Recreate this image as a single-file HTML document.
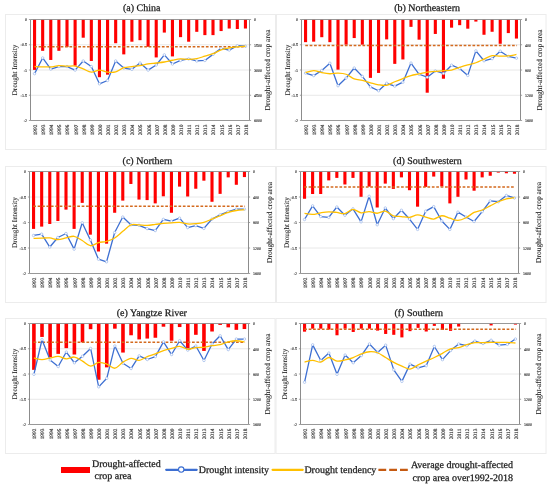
<!DOCTYPE html>
<html><head><meta charset="utf-8"><title>Drought charts</title>
<style>
html,body{margin:0;padding:0;background:#fff;}
body{width:550px;height:486px;overflow:hidden;font-family:"Liberation Serif", serif;}
svg{display:block;will-change:transform;text-rendering:geometricPrecision;}
</style></head><body>
<svg width="550" height="486" viewBox="0 0 550 486" font-family='"Liberation Serif", serif'>
<rect width="550" height="486" fill="#fff"/>
<rect x="5.5" y="14.5" width="270" height="135" fill="#fff" stroke="#ececec" stroke-width="1"/>
<text x="123" y="11.3" font-size="10" fill="#1a1a1a" stroke="#1a1a1a" stroke-width="0.25">(a) China</text>
<line x1="30.5" y1="44.75" x2="249.5" y2="44.75" stroke="#e2e2e2" stroke-width="0.8"/>
<line x1="30.5" y1="70" x2="249.5" y2="70" stroke="#e2e2e2" stroke-width="0.8"/>
<line x1="30.5" y1="95.25" x2="249.5" y2="95.25" stroke="#e2e2e2" stroke-width="0.8"/>
<rect x="33.01" y="19.5" width="3.1" height="50.4" fill="#ff0000"/>
<rect x="41.12" y="19.5" width="3.1" height="31.33" fill="#ff0000"/>
<rect x="49.23" y="19.5" width="3.1" height="40.46" fill="#ff0000"/>
<rect x="57.34" y="19.5" width="3.1" height="31.33" fill="#ff0000"/>
<rect x="65.45" y="19.5" width="3.1" height="27.58" fill="#ff0000"/>
<rect x="73.56" y="19.5" width="3.1" height="46.19" fill="#ff0000"/>
<rect x="81.67" y="19.5" width="3.1" height="18.2" fill="#ff0000"/>
<rect x="89.78" y="19.5" width="3.1" height="41.47" fill="#ff0000"/>
<rect x="97.89" y="19.5" width="3.1" height="57.7" fill="#ff0000"/>
<rect x="106.01" y="19.5" width="3.1" height="55.16" fill="#ff0000"/>
<rect x="114.12" y="19.5" width="3.1" height="23.73" fill="#ff0000"/>
<rect x="122.23" y="19.5" width="3.1" height="34.88" fill="#ff0000"/>
<rect x="130.34" y="19.5" width="3.1" height="22.21" fill="#ff0000"/>
<rect x="138.45" y="19.5" width="3.1" height="20.69" fill="#ff0000"/>
<rect x="146.56" y="19.5" width="3.1" height="27.28" fill="#ff0000"/>
<rect x="154.67" y="19.5" width="3.1" height="37.93" fill="#ff0000"/>
<rect x="162.78" y="19.5" width="3.1" height="13.08" fill="#ff0000"/>
<rect x="170.89" y="19.5" width="3.1" height="36.91" fill="#ff0000"/>
<rect x="179.01" y="19.5" width="3.1" height="17.64" fill="#ff0000"/>
<rect x="187.12" y="19.5" width="3.1" height="22.21" fill="#ff0000"/>
<rect x="195.23" y="19.5" width="3.1" height="12.32" fill="#ff0000"/>
<rect x="203.34" y="19.5" width="3.1" height="15.62" fill="#ff0000"/>
<rect x="211.45" y="19.5" width="3.1" height="15.62" fill="#ff0000"/>
<rect x="219.56" y="19.5" width="3.1" height="11.56" fill="#ff0000"/>
<rect x="227.67" y="19.5" width="3.1" height="9.03" fill="#ff0000"/>
<rect x="235.78" y="19.5" width="3.1" height="9.53" fill="#ff0000"/>
<rect x="243.89" y="19.5" width="3.1" height="9.03" fill="#ff0000"/>
<line x1="30.5" y1="19.5" x2="249.5" y2="19.5" stroke="#8c8c8c" stroke-width="0.9"/>
<line x1="30.5" y1="120.5" x2="249.5" y2="120.5" stroke="#8c8c8c" stroke-width="0.9"/>
<line x1="30.5" y1="19.5" x2="30.5" y2="120.5" stroke="#8c8c8c" stroke-width="1"/>
<line x1="249.5" y1="19.5" x2="249.5" y2="120.5" stroke="#8c8c8c" stroke-width="1"/>
<line x1="28.9" y1="19.5" x2="30.5" y2="19.5" stroke="#8c8c8c" stroke-width="0.8"/>
<line x1="249.5" y1="19.5" x2="251.1" y2="19.5" stroke="#8c8c8c" stroke-width="0.8"/>
<text transform="translate(27.1,21.2) scale(0.1)" font-size="41" text-anchor="end" fill="#222" stroke="#222" stroke-width="1.0">0</text>
<text transform="translate(253.9,21.4) scale(0.1)" font-size="41" fill="#222" stroke="#222" stroke-width="1.0">0</text>
<line x1="28.9" y1="44.75" x2="30.5" y2="44.75" stroke="#8c8c8c" stroke-width="0.8"/>
<line x1="249.5" y1="44.75" x2="251.1" y2="44.75" stroke="#8c8c8c" stroke-width="0.8"/>
<text transform="translate(27.1,46.45) scale(0.1)" font-size="41" text-anchor="end" fill="#222" stroke="#222" stroke-width="1.0">-0.5</text>
<text transform="translate(253.9,46.65) scale(0.1)" font-size="41" fill="#222" stroke="#222" stroke-width="1.0">1500</text>
<line x1="28.9" y1="70" x2="30.5" y2="70" stroke="#8c8c8c" stroke-width="0.8"/>
<line x1="249.5" y1="70" x2="251.1" y2="70" stroke="#8c8c8c" stroke-width="0.8"/>
<text transform="translate(27.1,71.7) scale(0.1)" font-size="41" text-anchor="end" fill="#222" stroke="#222" stroke-width="1.0">-1</text>
<text transform="translate(253.9,71.9) scale(0.1)" font-size="41" fill="#222" stroke="#222" stroke-width="1.0">3000</text>
<line x1="28.9" y1="95.25" x2="30.5" y2="95.25" stroke="#8c8c8c" stroke-width="0.8"/>
<line x1="249.5" y1="95.25" x2="251.1" y2="95.25" stroke="#8c8c8c" stroke-width="0.8"/>
<text transform="translate(27.1,96.95) scale(0.1)" font-size="41" text-anchor="end" fill="#222" stroke="#222" stroke-width="1.0">-1.5</text>
<text transform="translate(253.9,97.15) scale(0.1)" font-size="41" fill="#222" stroke="#222" stroke-width="1.0">4500</text>
<line x1="28.9" y1="120.5" x2="30.5" y2="120.5" stroke="#8c8c8c" stroke-width="0.8"/>
<line x1="249.5" y1="120.5" x2="251.1" y2="120.5" stroke="#8c8c8c" stroke-width="0.8"/>
<text transform="translate(27.1,122.2) scale(0.1)" font-size="41" text-anchor="end" fill="#222" stroke="#222" stroke-width="1.0">-2</text>
<text transform="translate(253.9,122.4) scale(0.1)" font-size="41" fill="#222" stroke="#222" stroke-width="1.0">6000</text>
<text transform="translate(36.96,124.7) rotate(-90) scale(0.1)" font-size="53" text-anchor="end" fill="#2a2a2a" stroke="#2a2a2a" stroke-width="1.4">1992</text>
<text transform="translate(45.07,124.7) rotate(-90) scale(0.1)" font-size="53" text-anchor="end" fill="#2a2a2a" stroke="#2a2a2a" stroke-width="1.4">1993</text>
<text transform="translate(53.18,124.7) rotate(-90) scale(0.1)" font-size="53" text-anchor="end" fill="#2a2a2a" stroke="#2a2a2a" stroke-width="1.4">1994</text>
<text transform="translate(61.29,124.7) rotate(-90) scale(0.1)" font-size="53" text-anchor="end" fill="#2a2a2a" stroke="#2a2a2a" stroke-width="1.4">1995</text>
<text transform="translate(69.4,124.7) rotate(-90) scale(0.1)" font-size="53" text-anchor="end" fill="#2a2a2a" stroke="#2a2a2a" stroke-width="1.4">1996</text>
<text transform="translate(77.51,124.7) rotate(-90) scale(0.1)" font-size="53" text-anchor="end" fill="#2a2a2a" stroke="#2a2a2a" stroke-width="1.4">1997</text>
<text transform="translate(85.62,124.7) rotate(-90) scale(0.1)" font-size="53" text-anchor="end" fill="#2a2a2a" stroke="#2a2a2a" stroke-width="1.4">1998</text>
<text transform="translate(93.73,124.7) rotate(-90) scale(0.1)" font-size="53" text-anchor="end" fill="#2a2a2a" stroke="#2a2a2a" stroke-width="1.4">1999</text>
<text transform="translate(101.84,124.7) rotate(-90) scale(0.1)" font-size="53" text-anchor="end" fill="#2a2a2a" stroke="#2a2a2a" stroke-width="1.4">2000</text>
<text transform="translate(109.96,124.7) rotate(-90) scale(0.1)" font-size="53" text-anchor="end" fill="#2a2a2a" stroke="#2a2a2a" stroke-width="1.4">2001</text>
<text transform="translate(118.07,124.7) rotate(-90) scale(0.1)" font-size="53" text-anchor="end" fill="#2a2a2a" stroke="#2a2a2a" stroke-width="1.4">2002</text>
<text transform="translate(126.18,124.7) rotate(-90) scale(0.1)" font-size="53" text-anchor="end" fill="#2a2a2a" stroke="#2a2a2a" stroke-width="1.4">2003</text>
<text transform="translate(134.29,124.7) rotate(-90) scale(0.1)" font-size="53" text-anchor="end" fill="#2a2a2a" stroke="#2a2a2a" stroke-width="1.4">2004</text>
<text transform="translate(142.4,124.7) rotate(-90) scale(0.1)" font-size="53" text-anchor="end" fill="#2a2a2a" stroke="#2a2a2a" stroke-width="1.4">2005</text>
<text transform="translate(150.51,124.7) rotate(-90) scale(0.1)" font-size="53" text-anchor="end" fill="#2a2a2a" stroke="#2a2a2a" stroke-width="1.4">2006</text>
<text transform="translate(158.62,124.7) rotate(-90) scale(0.1)" font-size="53" text-anchor="end" fill="#2a2a2a" stroke="#2a2a2a" stroke-width="1.4">2007</text>
<text transform="translate(166.73,124.7) rotate(-90) scale(0.1)" font-size="53" text-anchor="end" fill="#2a2a2a" stroke="#2a2a2a" stroke-width="1.4">2008</text>
<text transform="translate(174.84,124.7) rotate(-90) scale(0.1)" font-size="53" text-anchor="end" fill="#2a2a2a" stroke="#2a2a2a" stroke-width="1.4">2009</text>
<text transform="translate(182.96,124.7) rotate(-90) scale(0.1)" font-size="53" text-anchor="end" fill="#2a2a2a" stroke="#2a2a2a" stroke-width="1.4">2010</text>
<text transform="translate(191.07,124.7) rotate(-90) scale(0.1)" font-size="53" text-anchor="end" fill="#2a2a2a" stroke="#2a2a2a" stroke-width="1.4">2011</text>
<text transform="translate(199.18,124.7) rotate(-90) scale(0.1)" font-size="53" text-anchor="end" fill="#2a2a2a" stroke="#2a2a2a" stroke-width="1.4">2012</text>
<text transform="translate(207.29,124.7) rotate(-90) scale(0.1)" font-size="53" text-anchor="end" fill="#2a2a2a" stroke="#2a2a2a" stroke-width="1.4">2013</text>
<text transform="translate(215.4,124.7) rotate(-90) scale(0.1)" font-size="53" text-anchor="end" fill="#2a2a2a" stroke="#2a2a2a" stroke-width="1.4">2014</text>
<text transform="translate(223.51,124.7) rotate(-90) scale(0.1)" font-size="53" text-anchor="end" fill="#2a2a2a" stroke="#2a2a2a" stroke-width="1.4">2015</text>
<text transform="translate(231.62,124.7) rotate(-90) scale(0.1)" font-size="53" text-anchor="end" fill="#2a2a2a" stroke="#2a2a2a" stroke-width="1.4">2016</text>
<text transform="translate(239.73,124.7) rotate(-90) scale(0.1)" font-size="53" text-anchor="end" fill="#2a2a2a" stroke="#2a2a2a" stroke-width="1.4">2017</text>
<text transform="translate(247.84,124.7) rotate(-90) scale(0.1)" font-size="53" text-anchor="end" fill="#2a2a2a" stroke="#2a2a2a" stroke-width="1.4">2018</text>
<text transform="translate(16.8,70) rotate(-90)" font-size="7.2" text-anchor="middle" fill="#1a1a1a" stroke="#1a1a1a" stroke-width="0.08">Drought Intensity</text>
<text transform="translate(270.4,70) rotate(-90)" font-size="7.5" text-anchor="middle" fill="#1a1a1a" stroke="#1a1a1a" stroke-width="0.08">Drought-affected crop area</text>
<line x1="34.26" y1="46.78" x2="246.04" y2="46.78" stroke="#d46a1e" stroke-width="1.5" stroke-dasharray="2.7,1.7"/>
<polyline points="34.56,73.65 42.67,57.93 50.78,69.09 58.89,66.55 67,66.55 75.11,70.1 83.22,60.97 91.33,66.55 99.44,83.79 107.56,80.49 115.67,60.97 123.78,68.07 131.89,69.34 140,63 148.11,70.1 156.22,65.03 164.33,54.89 172.44,64.02 180.56,60.47 188.67,58.95 196.78,60.97 204.89,60.47 213,54.38 221.11,48.3 229.22,50.07 237.33,45.76 245.44,46.27" fill="none" stroke="#3d6fd2" stroke-width="1.3" stroke-linejoin="round"/>
<circle cx="34.56" cy="73.65" r="1.25" fill="#fff" stroke="#7a9ee0" stroke-width="0.5"/>
<circle cx="42.67" cy="57.93" r="1.25" fill="#fff" stroke="#7a9ee0" stroke-width="0.5"/>
<circle cx="50.78" cy="69.09" r="1.25" fill="#fff" stroke="#7a9ee0" stroke-width="0.5"/>
<circle cx="58.89" cy="66.55" r="1.25" fill="#fff" stroke="#7a9ee0" stroke-width="0.5"/>
<circle cx="67" cy="66.55" r="1.25" fill="#fff" stroke="#7a9ee0" stroke-width="0.5"/>
<circle cx="75.11" cy="70.1" r="1.25" fill="#fff" stroke="#7a9ee0" stroke-width="0.5"/>
<circle cx="83.22" cy="60.97" r="1.25" fill="#fff" stroke="#7a9ee0" stroke-width="0.5"/>
<circle cx="91.33" cy="66.55" r="1.25" fill="#fff" stroke="#7a9ee0" stroke-width="0.5"/>
<circle cx="99.44" cy="83.79" r="1.25" fill="#fff" stroke="#7a9ee0" stroke-width="0.5"/>
<circle cx="107.56" cy="80.49" r="1.25" fill="#fff" stroke="#7a9ee0" stroke-width="0.5"/>
<circle cx="115.67" cy="60.97" r="1.25" fill="#fff" stroke="#7a9ee0" stroke-width="0.5"/>
<circle cx="123.78" cy="68.07" r="1.25" fill="#fff" stroke="#7a9ee0" stroke-width="0.5"/>
<circle cx="131.89" cy="69.34" r="1.25" fill="#fff" stroke="#7a9ee0" stroke-width="0.5"/>
<circle cx="140" cy="63" r="1.25" fill="#fff" stroke="#7a9ee0" stroke-width="0.5"/>
<circle cx="148.11" cy="70.1" r="1.25" fill="#fff" stroke="#7a9ee0" stroke-width="0.5"/>
<circle cx="156.22" cy="65.03" r="1.25" fill="#fff" stroke="#7a9ee0" stroke-width="0.5"/>
<circle cx="164.33" cy="54.89" r="1.25" fill="#fff" stroke="#7a9ee0" stroke-width="0.5"/>
<circle cx="172.44" cy="64.02" r="1.25" fill="#fff" stroke="#7a9ee0" stroke-width="0.5"/>
<circle cx="180.56" cy="60.47" r="1.25" fill="#fff" stroke="#7a9ee0" stroke-width="0.5"/>
<circle cx="188.67" cy="58.95" r="1.25" fill="#fff" stroke="#7a9ee0" stroke-width="0.5"/>
<circle cx="196.78" cy="60.97" r="1.25" fill="#fff" stroke="#7a9ee0" stroke-width="0.5"/>
<circle cx="204.89" cy="60.47" r="1.25" fill="#fff" stroke="#7a9ee0" stroke-width="0.5"/>
<circle cx="213" cy="54.38" r="1.25" fill="#fff" stroke="#7a9ee0" stroke-width="0.5"/>
<circle cx="221.11" cy="48.3" r="1.25" fill="#fff" stroke="#7a9ee0" stroke-width="0.5"/>
<circle cx="229.22" cy="50.07" r="1.25" fill="#fff" stroke="#7a9ee0" stroke-width="0.5"/>
<circle cx="237.33" cy="45.76" r="1.25" fill="#fff" stroke="#7a9ee0" stroke-width="0.5"/>
<circle cx="245.44" cy="46.27" r="1.25" fill="#fff" stroke="#7a9ee0" stroke-width="0.5"/>
<path d="M34.56,66.5 C35.91,66.56 39.96,66.8 42.67,66.86 C45.37,66.91 48.07,67.05 50.78,66.86 C53.48,66.66 56.19,65.8 58.89,65.69 C61.59,65.58 64.3,66.14 67,66.2 C69.7,66.26 72.41,65.58 75.11,66.04 C77.81,66.51 80.52,67.97 83.22,68.98 C85.93,70 88.63,71.94 91.33,72.13 C94.04,72.31 96.74,70.1 99.44,70.1 C102.15,70.1 104.85,71.83 107.56,72.13 C110.26,72.42 112.96,72.61 115.67,71.87 C118.37,71.14 121.07,68.6 123.78,67.72 C126.48,66.83 129.19,66.89 131.89,66.55 C134.59,66.21 137.3,66.14 140,65.69 C142.7,65.24 145.41,64.31 148.11,63.86 C150.81,63.42 153.52,63.31 156.22,63 C158.93,62.69 161.63,62.44 164.33,61.99 C167.04,61.53 169.74,60.77 172.44,60.26 C175.15,59.76 177.85,59.08 180.56,58.95 C183.26,58.81 185.96,59.51 188.67,59.45 C191.37,59.39 194.07,59.14 196.78,58.59 C199.48,58.04 202.19,56.98 204.89,56.16 C207.59,55.34 210.3,54.73 213,53.67 C215.7,52.62 218.41,50.8 221.11,49.82 C223.81,48.84 226.52,48.3 229.22,47.79 C231.93,47.29 234.63,47.03 237.33,46.78 C240.04,46.52 244.09,46.36 245.44,46.27" fill="none" stroke="#ffc000" stroke-width="1.3" stroke-linejoin="round"/>
<rect x="276.5" y="14.5" width="269.5" height="135" fill="#fff" stroke="#ececec" stroke-width="1"/>
<text x="394.2" y="11.3" font-size="10" fill="#1a1a1a" stroke="#1a1a1a" stroke-width="0.25">(b) Northeastern</text>
<line x1="301.5" y1="44.75" x2="520.5" y2="44.75" stroke="#e2e2e2" stroke-width="0.8"/>
<line x1="301.5" y1="70" x2="520.5" y2="70" stroke="#e2e2e2" stroke-width="0.8"/>
<line x1="301.5" y1="95.25" x2="520.5" y2="95.25" stroke="#e2e2e2" stroke-width="0.8"/>
<rect x="304.01" y="19.5" width="3.1" height="22.66" fill="#ff0000"/>
<rect x="312.12" y="19.5" width="3.1" height="22.16" fill="#ff0000"/>
<rect x="320.23" y="19.5" width="3.1" height="17.7" fill="#ff0000"/>
<rect x="328.34" y="19.5" width="3.1" height="22.66" fill="#ff0000"/>
<rect x="336.45" y="19.5" width="3.1" height="50.14" fill="#ff0000"/>
<rect x="344.56" y="19.5" width="3.1" height="25.15" fill="#ff0000"/>
<rect x="352.67" y="19.5" width="3.1" height="18.56" fill="#ff0000"/>
<rect x="360.78" y="19.5" width="3.1" height="25.15" fill="#ff0000"/>
<rect x="368.89" y="19.5" width="3.1" height="58.36" fill="#ff0000"/>
<rect x="377.01" y="19.5" width="3.1" height="53.44" fill="#ff0000"/>
<rect x="385.12" y="19.5" width="3.1" height="19.88" fill="#ff0000"/>
<rect x="393.23" y="19.5" width="3.1" height="44.36" fill="#ff0000"/>
<rect x="401.34" y="19.5" width="3.1" height="39.95" fill="#ff0000"/>
<rect x="409.45" y="19.5" width="3.1" height="7.35" fill="#ff0000"/>
<rect x="417.56" y="19.5" width="3.1" height="20.18" fill="#ff0000"/>
<rect x="425.67" y="19.5" width="3.1" height="73.21" fill="#ff0000"/>
<rect x="433.78" y="19.5" width="3.1" height="14.45" fill="#ff0000"/>
<rect x="441.89" y="19.5" width="3.1" height="59.22" fill="#ff0000"/>
<rect x="450.01" y="19.5" width="3.1" height="8.16" fill="#ff0000"/>
<rect x="458.12" y="19.5" width="3.1" height="5.68" fill="#ff0000"/>
<rect x="466.23" y="19.5" width="3.1" height="9.18" fill="#ff0000"/>
<rect x="474.34" y="19.5" width="3.1" height="2.08" fill="#ff0000"/>
<rect x="482.45" y="19.5" width="3.1" height="15.26" fill="#ff0000"/>
<rect x="490.56" y="19.5" width="3.1" height="12.27" fill="#ff0000"/>
<rect x="498.67" y="19.5" width="3.1" height="24.29" fill="#ff0000"/>
<rect x="506.78" y="19.5" width="3.1" height="13.59" fill="#ff0000"/>
<rect x="514.89" y="19.5" width="3.1" height="19.06" fill="#ff0000"/>
<line x1="301.5" y1="19.5" x2="520.5" y2="19.5" stroke="#8c8c8c" stroke-width="0.9"/>
<line x1="301.5" y1="120.5" x2="520.5" y2="120.5" stroke="#8c8c8c" stroke-width="0.9"/>
<line x1="301.5" y1="19.5" x2="301.5" y2="120.5" stroke="#8c8c8c" stroke-width="1"/>
<line x1="520.5" y1="19.5" x2="520.5" y2="120.5" stroke="#8c8c8c" stroke-width="1"/>
<line x1="299.9" y1="19.5" x2="301.5" y2="19.5" stroke="#8c8c8c" stroke-width="0.8"/>
<line x1="520.5" y1="19.5" x2="522.1" y2="19.5" stroke="#8c8c8c" stroke-width="0.8"/>
<text transform="translate(298.1,21.2) scale(0.1)" font-size="41" text-anchor="end" fill="#222" stroke="#222" stroke-width="1.0">0</text>
<text transform="translate(524.9,21.4) scale(0.1)" font-size="41" fill="#222" stroke="#222" stroke-width="1.0">0</text>
<line x1="299.9" y1="44.75" x2="301.5" y2="44.75" stroke="#8c8c8c" stroke-width="0.8"/>
<line x1="520.5" y1="44.75" x2="522.1" y2="44.75" stroke="#8c8c8c" stroke-width="0.8"/>
<text transform="translate(298.1,46.45) scale(0.1)" font-size="41" text-anchor="end" fill="#222" stroke="#222" stroke-width="1.0">-0.5</text>
<text transform="translate(524.9,46.65) scale(0.1)" font-size="41" fill="#222" stroke="#222" stroke-width="1.0">400</text>
<line x1="299.9" y1="70" x2="301.5" y2="70" stroke="#8c8c8c" stroke-width="0.8"/>
<line x1="520.5" y1="70" x2="522.1" y2="70" stroke="#8c8c8c" stroke-width="0.8"/>
<text transform="translate(298.1,71.7) scale(0.1)" font-size="41" text-anchor="end" fill="#222" stroke="#222" stroke-width="1.0">-1</text>
<text transform="translate(524.9,71.9) scale(0.1)" font-size="41" fill="#222" stroke="#222" stroke-width="1.0">800</text>
<line x1="299.9" y1="95.25" x2="301.5" y2="95.25" stroke="#8c8c8c" stroke-width="0.8"/>
<line x1="520.5" y1="95.25" x2="522.1" y2="95.25" stroke="#8c8c8c" stroke-width="0.8"/>
<text transform="translate(298.1,96.95) scale(0.1)" font-size="41" text-anchor="end" fill="#222" stroke="#222" stroke-width="1.0">-1.5</text>
<text transform="translate(524.9,97.15) scale(0.1)" font-size="41" fill="#222" stroke="#222" stroke-width="1.0">1200</text>
<line x1="299.9" y1="120.5" x2="301.5" y2="120.5" stroke="#8c8c8c" stroke-width="0.8"/>
<line x1="520.5" y1="120.5" x2="522.1" y2="120.5" stroke="#8c8c8c" stroke-width="0.8"/>
<text transform="translate(298.1,122.2) scale(0.1)" font-size="41" text-anchor="end" fill="#222" stroke="#222" stroke-width="1.0">-2</text>
<text transform="translate(524.9,122.4) scale(0.1)" font-size="41" fill="#222" stroke="#222" stroke-width="1.0">1600</text>
<text transform="translate(307.96,124.7) rotate(-90) scale(0.1)" font-size="53" text-anchor="end" fill="#2a2a2a" stroke="#2a2a2a" stroke-width="1.4">1992</text>
<text transform="translate(316.07,124.7) rotate(-90) scale(0.1)" font-size="53" text-anchor="end" fill="#2a2a2a" stroke="#2a2a2a" stroke-width="1.4">1993</text>
<text transform="translate(324.18,124.7) rotate(-90) scale(0.1)" font-size="53" text-anchor="end" fill="#2a2a2a" stroke="#2a2a2a" stroke-width="1.4">1994</text>
<text transform="translate(332.29,124.7) rotate(-90) scale(0.1)" font-size="53" text-anchor="end" fill="#2a2a2a" stroke="#2a2a2a" stroke-width="1.4">1995</text>
<text transform="translate(340.4,124.7) rotate(-90) scale(0.1)" font-size="53" text-anchor="end" fill="#2a2a2a" stroke="#2a2a2a" stroke-width="1.4">1996</text>
<text transform="translate(348.51,124.7) rotate(-90) scale(0.1)" font-size="53" text-anchor="end" fill="#2a2a2a" stroke="#2a2a2a" stroke-width="1.4">1997</text>
<text transform="translate(356.62,124.7) rotate(-90) scale(0.1)" font-size="53" text-anchor="end" fill="#2a2a2a" stroke="#2a2a2a" stroke-width="1.4">1998</text>
<text transform="translate(364.73,124.7) rotate(-90) scale(0.1)" font-size="53" text-anchor="end" fill="#2a2a2a" stroke="#2a2a2a" stroke-width="1.4">1999</text>
<text transform="translate(372.84,124.7) rotate(-90) scale(0.1)" font-size="53" text-anchor="end" fill="#2a2a2a" stroke="#2a2a2a" stroke-width="1.4">2000</text>
<text transform="translate(380.96,124.7) rotate(-90) scale(0.1)" font-size="53" text-anchor="end" fill="#2a2a2a" stroke="#2a2a2a" stroke-width="1.4">2001</text>
<text transform="translate(389.07,124.7) rotate(-90) scale(0.1)" font-size="53" text-anchor="end" fill="#2a2a2a" stroke="#2a2a2a" stroke-width="1.4">2002</text>
<text transform="translate(397.18,124.7) rotate(-90) scale(0.1)" font-size="53" text-anchor="end" fill="#2a2a2a" stroke="#2a2a2a" stroke-width="1.4">2003</text>
<text transform="translate(405.29,124.7) rotate(-90) scale(0.1)" font-size="53" text-anchor="end" fill="#2a2a2a" stroke="#2a2a2a" stroke-width="1.4">2004</text>
<text transform="translate(413.4,124.7) rotate(-90) scale(0.1)" font-size="53" text-anchor="end" fill="#2a2a2a" stroke="#2a2a2a" stroke-width="1.4">2005</text>
<text transform="translate(421.51,124.7) rotate(-90) scale(0.1)" font-size="53" text-anchor="end" fill="#2a2a2a" stroke="#2a2a2a" stroke-width="1.4">2006</text>
<text transform="translate(429.62,124.7) rotate(-90) scale(0.1)" font-size="53" text-anchor="end" fill="#2a2a2a" stroke="#2a2a2a" stroke-width="1.4">2007</text>
<text transform="translate(437.73,124.7) rotate(-90) scale(0.1)" font-size="53" text-anchor="end" fill="#2a2a2a" stroke="#2a2a2a" stroke-width="1.4">2008</text>
<text transform="translate(445.84,124.7) rotate(-90) scale(0.1)" font-size="53" text-anchor="end" fill="#2a2a2a" stroke="#2a2a2a" stroke-width="1.4">2009</text>
<text transform="translate(453.96,124.7) rotate(-90) scale(0.1)" font-size="53" text-anchor="end" fill="#2a2a2a" stroke="#2a2a2a" stroke-width="1.4">2010</text>
<text transform="translate(462.07,124.7) rotate(-90) scale(0.1)" font-size="53" text-anchor="end" fill="#2a2a2a" stroke="#2a2a2a" stroke-width="1.4">2011</text>
<text transform="translate(470.18,124.7) rotate(-90) scale(0.1)" font-size="53" text-anchor="end" fill="#2a2a2a" stroke="#2a2a2a" stroke-width="1.4">2012</text>
<text transform="translate(478.29,124.7) rotate(-90) scale(0.1)" font-size="53" text-anchor="end" fill="#2a2a2a" stroke="#2a2a2a" stroke-width="1.4">2013</text>
<text transform="translate(486.4,124.7) rotate(-90) scale(0.1)" font-size="53" text-anchor="end" fill="#2a2a2a" stroke="#2a2a2a" stroke-width="1.4">2014</text>
<text transform="translate(494.51,124.7) rotate(-90) scale(0.1)" font-size="53" text-anchor="end" fill="#2a2a2a" stroke="#2a2a2a" stroke-width="1.4">2015</text>
<text transform="translate(502.62,124.7) rotate(-90) scale(0.1)" font-size="53" text-anchor="end" fill="#2a2a2a" stroke="#2a2a2a" stroke-width="1.4">2016</text>
<text transform="translate(510.73,124.7) rotate(-90) scale(0.1)" font-size="53" text-anchor="end" fill="#2a2a2a" stroke="#2a2a2a" stroke-width="1.4">2017</text>
<text transform="translate(518.84,124.7) rotate(-90) scale(0.1)" font-size="53" text-anchor="end" fill="#2a2a2a" stroke="#2a2a2a" stroke-width="1.4">2018</text>
<text transform="translate(290,70) rotate(-90)" font-size="7.2" text-anchor="middle" fill="#1a1a1a" stroke="#1a1a1a" stroke-width="0.08">Drought Intensity</text>
<text transform="translate(542.1,70) rotate(-90)" font-size="7.5" text-anchor="middle" fill="#1a1a1a" stroke="#1a1a1a" stroke-width="0.08">Drought-affected crop area</text>
<line x1="305.26" y1="45.46" x2="517.04" y2="45.46" stroke="#d46a1e" stroke-width="1.5" stroke-dasharray="2.7,1.7"/>
<polyline points="305.56,73.09 313.67,75.58 321.78,70.45 329.89,63.2 338,85.77 346.11,78.06 354.22,68.02 362.33,76.39 370.44,86.93 378.56,90.73 386.67,83.28 394.78,86.12 402.89,82.17 411,63.05 419.11,74.26 427.22,77.2 435.33,70.96 443.44,73.45 451.56,65.18 459.67,68.48 467.78,75.42 475.89,50.88 484,60.77 492.11,58.64 500.22,51.19 508.33,56.46 516.44,58.13" fill="none" stroke="#3d6fd2" stroke-width="1.3" stroke-linejoin="round"/>
<circle cx="305.56" cy="73.09" r="1.25" fill="#fff" stroke="#7a9ee0" stroke-width="0.5"/>
<circle cx="313.67" cy="75.58" r="1.25" fill="#fff" stroke="#7a9ee0" stroke-width="0.5"/>
<circle cx="321.78" cy="70.45" r="1.25" fill="#fff" stroke="#7a9ee0" stroke-width="0.5"/>
<circle cx="329.89" cy="63.2" r="1.25" fill="#fff" stroke="#7a9ee0" stroke-width="0.5"/>
<circle cx="338" cy="85.77" r="1.25" fill="#fff" stroke="#7a9ee0" stroke-width="0.5"/>
<circle cx="346.11" cy="78.06" r="1.25" fill="#fff" stroke="#7a9ee0" stroke-width="0.5"/>
<circle cx="354.22" cy="68.02" r="1.25" fill="#fff" stroke="#7a9ee0" stroke-width="0.5"/>
<circle cx="362.33" cy="76.39" r="1.25" fill="#fff" stroke="#7a9ee0" stroke-width="0.5"/>
<circle cx="370.44" cy="86.93" r="1.25" fill="#fff" stroke="#7a9ee0" stroke-width="0.5"/>
<circle cx="378.56" cy="90.73" r="1.25" fill="#fff" stroke="#7a9ee0" stroke-width="0.5"/>
<circle cx="386.67" cy="83.28" r="1.25" fill="#fff" stroke="#7a9ee0" stroke-width="0.5"/>
<circle cx="394.78" cy="86.12" r="1.25" fill="#fff" stroke="#7a9ee0" stroke-width="0.5"/>
<circle cx="402.89" cy="82.17" r="1.25" fill="#fff" stroke="#7a9ee0" stroke-width="0.5"/>
<circle cx="411" cy="63.05" r="1.25" fill="#fff" stroke="#7a9ee0" stroke-width="0.5"/>
<circle cx="419.11" cy="74.26" r="1.25" fill="#fff" stroke="#7a9ee0" stroke-width="0.5"/>
<circle cx="427.22" cy="77.2" r="1.25" fill="#fff" stroke="#7a9ee0" stroke-width="0.5"/>
<circle cx="435.33" cy="70.96" r="1.25" fill="#fff" stroke="#7a9ee0" stroke-width="0.5"/>
<circle cx="443.44" cy="73.45" r="1.25" fill="#fff" stroke="#7a9ee0" stroke-width="0.5"/>
<circle cx="451.56" cy="65.18" r="1.25" fill="#fff" stroke="#7a9ee0" stroke-width="0.5"/>
<circle cx="459.67" cy="68.48" r="1.25" fill="#fff" stroke="#7a9ee0" stroke-width="0.5"/>
<circle cx="467.78" cy="75.42" r="1.25" fill="#fff" stroke="#7a9ee0" stroke-width="0.5"/>
<circle cx="475.89" cy="50.88" r="1.25" fill="#fff" stroke="#7a9ee0" stroke-width="0.5"/>
<circle cx="484" cy="60.77" r="1.25" fill="#fff" stroke="#7a9ee0" stroke-width="0.5"/>
<circle cx="492.11" cy="58.64" r="1.25" fill="#fff" stroke="#7a9ee0" stroke-width="0.5"/>
<circle cx="500.22" cy="51.19" r="1.25" fill="#fff" stroke="#7a9ee0" stroke-width="0.5"/>
<circle cx="508.33" cy="56.46" r="1.25" fill="#fff" stroke="#7a9ee0" stroke-width="0.5"/>
<circle cx="516.44" cy="58.13" r="1.25" fill="#fff" stroke="#7a9ee0" stroke-width="0.5"/>
<path d="M305.56,72.64 C306.91,72.3 310.96,70.61 313.67,70.61 C316.37,70.61 319.07,72.11 321.78,72.64 C324.48,73.16 327.19,73.67 329.89,73.75 C332.59,73.83 335.3,73.06 338,73.14 C340.7,73.23 343.41,73.3 346.11,74.26 C348.81,75.21 351.52,77.83 354.22,78.87 C356.93,79.91 359.63,79.84 362.33,80.49 C365.04,81.14 367.74,82.06 370.44,82.78 C373.15,83.49 375.85,84.38 378.56,84.8 C381.26,85.23 383.96,85.82 386.67,85.31 C389.37,84.8 392.07,82.89 394.78,81.76 C397.48,80.63 400.19,79.56 402.89,78.52 C405.59,77.48 408.3,76.29 411,75.52 C413.7,74.76 416.41,74.52 419.11,73.95 C421.81,73.39 424.52,72.54 427.22,72.13 C429.93,71.71 432.63,71.72 435.33,71.47 C438.04,71.22 440.74,70.84 443.44,70.61 C446.15,70.38 448.85,70.64 451.56,70.1 C454.26,69.56 456.96,68.23 459.67,67.36 C462.37,66.49 465.07,65.65 467.78,64.88 C470.48,64.11 473.19,63.71 475.89,62.75 C478.59,61.79 481.3,60.28 484,59.1 C486.7,57.92 489.41,56.14 492.11,55.65 C494.81,55.16 497.52,56.12 500.22,56.16 C502.93,56.2 505.63,56.18 508.33,55.9 C511.04,55.63 515.09,54.72 516.44,54.48" fill="none" stroke="#ffc000" stroke-width="1.3" stroke-linejoin="round"/>
<rect x="5.5" y="166.5" width="270" height="136" fill="#fff" stroke="#ececec" stroke-width="1"/>
<text x="122.6" y="163.9" font-size="10" fill="#1a1a1a" stroke="#1a1a1a" stroke-width="0.25">(c) Northern</text>
<line x1="29.5" y1="197" x2="248.5" y2="197" stroke="#e2e2e2" stroke-width="0.8"/>
<line x1="29.5" y1="222.5" x2="248.5" y2="222.5" stroke="#e2e2e2" stroke-width="0.8"/>
<line x1="29.5" y1="248" x2="248.5" y2="248" stroke="#e2e2e2" stroke-width="0.8"/>
<rect x="32.01" y="171.5" width="3.1" height="57.39" fill="#ff0000"/>
<rect x="40.12" y="171.5" width="3.1" height="55.11" fill="#ff0000"/>
<rect x="48.23" y="171.5" width="3.1" height="52.47" fill="#ff0000"/>
<rect x="56.34" y="171.5" width="3.1" height="49.48" fill="#ff0000"/>
<rect x="64.45" y="171.5" width="3.1" height="38.12" fill="#ff0000"/>
<rect x="72.56" y="171.5" width="3.1" height="57.39" fill="#ff0000"/>
<rect x="80.67" y="171.5" width="3.1" height="31.38" fill="#ff0000"/>
<rect x="88.78" y="171.5" width="3.1" height="63.17" fill="#ff0000"/>
<rect x="96.89" y="171.5" width="3.1" height="80" fill="#ff0000"/>
<rect x="105.01" y="171.5" width="3.1" height="72.19" fill="#ff0000"/>
<rect x="113.12" y="171.5" width="3.1" height="41.27" fill="#ff0000"/>
<rect x="121.23" y="171.5" width="3.1" height="29.1" fill="#ff0000"/>
<rect x="129.34" y="171.5" width="3.1" height="12.47" fill="#ff0000"/>
<rect x="137.45" y="171.5" width="3.1" height="28.08" fill="#ff0000"/>
<rect x="145.56" y="171.5" width="3.1" height="28.59" fill="#ff0000"/>
<rect x="153.67" y="171.5" width="3.1" height="31.89" fill="#ff0000"/>
<rect x="161.78" y="171.5" width="3.1" height="24.79" fill="#ff0000"/>
<rect x="169.89" y="171.5" width="3.1" height="41.27" fill="#ff0000"/>
<rect x="178.01" y="171.5" width="3.1" height="15.11" fill="#ff0000"/>
<rect x="186.12" y="171.5" width="3.1" height="24.99" fill="#ff0000"/>
<rect x="194.23" y="171.5" width="3.1" height="17.24" fill="#ff0000"/>
<rect x="202.34" y="171.5" width="3.1" height="9.17" fill="#ff0000"/>
<rect x="210.45" y="171.5" width="3.1" height="30.27" fill="#ff0000"/>
<rect x="218.56" y="171.5" width="3.1" height="22.36" fill="#ff0000"/>
<rect x="226.67" y="171.5" width="3.1" height="5.88" fill="#ff0000"/>
<rect x="234.78" y="171.5" width="3.1" height="13.28" fill="#ff0000"/>
<rect x="242.89" y="171.5" width="3.1" height="5.57" fill="#ff0000"/>
<line x1="29.5" y1="171.5" x2="248.5" y2="171.5" stroke="#8c8c8c" stroke-width="0.9"/>
<line x1="29.5" y1="273.5" x2="248.5" y2="273.5" stroke="#8c8c8c" stroke-width="0.9"/>
<line x1="29.5" y1="171.5" x2="29.5" y2="273.5" stroke="#8c8c8c" stroke-width="1"/>
<line x1="248.5" y1="171.5" x2="248.5" y2="273.5" stroke="#8c8c8c" stroke-width="1"/>
<line x1="27.9" y1="171.5" x2="29.5" y2="171.5" stroke="#8c8c8c" stroke-width="0.8"/>
<line x1="248.5" y1="171.5" x2="250.1" y2="171.5" stroke="#8c8c8c" stroke-width="0.8"/>
<text transform="translate(26.1,173.2) scale(0.1)" font-size="41" text-anchor="end" fill="#222" stroke="#222" stroke-width="1.0">0</text>
<text transform="translate(252.9,173.4) scale(0.1)" font-size="41" fill="#222" stroke="#222" stroke-width="1.0">0</text>
<line x1="27.9" y1="197" x2="29.5" y2="197" stroke="#8c8c8c" stroke-width="0.8"/>
<line x1="248.5" y1="197" x2="250.1" y2="197" stroke="#8c8c8c" stroke-width="0.8"/>
<text transform="translate(26.1,198.7) scale(0.1)" font-size="41" text-anchor="end" fill="#222" stroke="#222" stroke-width="1.0">-0.5</text>
<text transform="translate(252.9,198.9) scale(0.1)" font-size="41" fill="#222" stroke="#222" stroke-width="1.0">400</text>
<line x1="27.9" y1="222.5" x2="29.5" y2="222.5" stroke="#8c8c8c" stroke-width="0.8"/>
<line x1="248.5" y1="222.5" x2="250.1" y2="222.5" stroke="#8c8c8c" stroke-width="0.8"/>
<text transform="translate(26.1,224.2) scale(0.1)" font-size="41" text-anchor="end" fill="#222" stroke="#222" stroke-width="1.0">-1</text>
<text transform="translate(252.9,224.4) scale(0.1)" font-size="41" fill="#222" stroke="#222" stroke-width="1.0">800</text>
<line x1="27.9" y1="248" x2="29.5" y2="248" stroke="#8c8c8c" stroke-width="0.8"/>
<line x1="248.5" y1="248" x2="250.1" y2="248" stroke="#8c8c8c" stroke-width="0.8"/>
<text transform="translate(26.1,249.7) scale(0.1)" font-size="41" text-anchor="end" fill="#222" stroke="#222" stroke-width="1.0">-1.5</text>
<text transform="translate(252.9,249.9) scale(0.1)" font-size="41" fill="#222" stroke="#222" stroke-width="1.0">1200</text>
<line x1="27.9" y1="273.5" x2="29.5" y2="273.5" stroke="#8c8c8c" stroke-width="0.8"/>
<line x1="248.5" y1="273.5" x2="250.1" y2="273.5" stroke="#8c8c8c" stroke-width="0.8"/>
<text transform="translate(26.1,275.2) scale(0.1)" font-size="41" text-anchor="end" fill="#222" stroke="#222" stroke-width="1.0">-2</text>
<text transform="translate(252.9,275.4) scale(0.1)" font-size="41" fill="#222" stroke="#222" stroke-width="1.0">1600</text>
<text transform="translate(35.96,277.7) rotate(-90) scale(0.1)" font-size="53" text-anchor="end" fill="#2a2a2a" stroke="#2a2a2a" stroke-width="1.4">1992</text>
<text transform="translate(44.07,277.7) rotate(-90) scale(0.1)" font-size="53" text-anchor="end" fill="#2a2a2a" stroke="#2a2a2a" stroke-width="1.4">1993</text>
<text transform="translate(52.18,277.7) rotate(-90) scale(0.1)" font-size="53" text-anchor="end" fill="#2a2a2a" stroke="#2a2a2a" stroke-width="1.4">1994</text>
<text transform="translate(60.29,277.7) rotate(-90) scale(0.1)" font-size="53" text-anchor="end" fill="#2a2a2a" stroke="#2a2a2a" stroke-width="1.4">1995</text>
<text transform="translate(68.4,277.7) rotate(-90) scale(0.1)" font-size="53" text-anchor="end" fill="#2a2a2a" stroke="#2a2a2a" stroke-width="1.4">1996</text>
<text transform="translate(76.51,277.7) rotate(-90) scale(0.1)" font-size="53" text-anchor="end" fill="#2a2a2a" stroke="#2a2a2a" stroke-width="1.4">1997</text>
<text transform="translate(84.62,277.7) rotate(-90) scale(0.1)" font-size="53" text-anchor="end" fill="#2a2a2a" stroke="#2a2a2a" stroke-width="1.4">1998</text>
<text transform="translate(92.73,277.7) rotate(-90) scale(0.1)" font-size="53" text-anchor="end" fill="#2a2a2a" stroke="#2a2a2a" stroke-width="1.4">1999</text>
<text transform="translate(100.84,277.7) rotate(-90) scale(0.1)" font-size="53" text-anchor="end" fill="#2a2a2a" stroke="#2a2a2a" stroke-width="1.4">2000</text>
<text transform="translate(108.96,277.7) rotate(-90) scale(0.1)" font-size="53" text-anchor="end" fill="#2a2a2a" stroke="#2a2a2a" stroke-width="1.4">2001</text>
<text transform="translate(117.07,277.7) rotate(-90) scale(0.1)" font-size="53" text-anchor="end" fill="#2a2a2a" stroke="#2a2a2a" stroke-width="1.4">2002</text>
<text transform="translate(125.18,277.7) rotate(-90) scale(0.1)" font-size="53" text-anchor="end" fill="#2a2a2a" stroke="#2a2a2a" stroke-width="1.4">2003</text>
<text transform="translate(133.29,277.7) rotate(-90) scale(0.1)" font-size="53" text-anchor="end" fill="#2a2a2a" stroke="#2a2a2a" stroke-width="1.4">2004</text>
<text transform="translate(141.4,277.7) rotate(-90) scale(0.1)" font-size="53" text-anchor="end" fill="#2a2a2a" stroke="#2a2a2a" stroke-width="1.4">2005</text>
<text transform="translate(149.51,277.7) rotate(-90) scale(0.1)" font-size="53" text-anchor="end" fill="#2a2a2a" stroke="#2a2a2a" stroke-width="1.4">2006</text>
<text transform="translate(157.62,277.7) rotate(-90) scale(0.1)" font-size="53" text-anchor="end" fill="#2a2a2a" stroke="#2a2a2a" stroke-width="1.4">2007</text>
<text transform="translate(165.73,277.7) rotate(-90) scale(0.1)" font-size="53" text-anchor="end" fill="#2a2a2a" stroke="#2a2a2a" stroke-width="1.4">2008</text>
<text transform="translate(173.84,277.7) rotate(-90) scale(0.1)" font-size="53" text-anchor="end" fill="#2a2a2a" stroke="#2a2a2a" stroke-width="1.4">2009</text>
<text transform="translate(181.96,277.7) rotate(-90) scale(0.1)" font-size="53" text-anchor="end" fill="#2a2a2a" stroke="#2a2a2a" stroke-width="1.4">2010</text>
<text transform="translate(190.07,277.7) rotate(-90) scale(0.1)" font-size="53" text-anchor="end" fill="#2a2a2a" stroke="#2a2a2a" stroke-width="1.4">2011</text>
<text transform="translate(198.18,277.7) rotate(-90) scale(0.1)" font-size="53" text-anchor="end" fill="#2a2a2a" stroke="#2a2a2a" stroke-width="1.4">2012</text>
<text transform="translate(206.29,277.7) rotate(-90) scale(0.1)" font-size="53" text-anchor="end" fill="#2a2a2a" stroke="#2a2a2a" stroke-width="1.4">2013</text>
<text transform="translate(214.4,277.7) rotate(-90) scale(0.1)" font-size="53" text-anchor="end" fill="#2a2a2a" stroke="#2a2a2a" stroke-width="1.4">2014</text>
<text transform="translate(222.51,277.7) rotate(-90) scale(0.1)" font-size="53" text-anchor="end" fill="#2a2a2a" stroke="#2a2a2a" stroke-width="1.4">2015</text>
<text transform="translate(230.62,277.7) rotate(-90) scale(0.1)" font-size="53" text-anchor="end" fill="#2a2a2a" stroke="#2a2a2a" stroke-width="1.4">2016</text>
<text transform="translate(238.73,277.7) rotate(-90) scale(0.1)" font-size="53" text-anchor="end" fill="#2a2a2a" stroke="#2a2a2a" stroke-width="1.4">2017</text>
<text transform="translate(246.84,277.7) rotate(-90) scale(0.1)" font-size="53" text-anchor="end" fill="#2a2a2a" stroke="#2a2a2a" stroke-width="1.4">2018</text>
<text transform="translate(16.7,222.5) rotate(-90)" font-size="7.2" text-anchor="middle" fill="#1a1a1a" stroke="#1a1a1a" stroke-width="0.08">Drought Intensity</text>
<text transform="translate(271.7,222.5) rotate(-90)" font-size="7.5" text-anchor="middle" fill="#1a1a1a" stroke="#1a1a1a" stroke-width="0.08">Drought-affected crop area</text>
<line x1="33.26" y1="206.33" x2="245.04" y2="206.33" stroke="#d46a1e" stroke-width="1.5" stroke-dasharray="2.7,1.7"/>
<polyline points="33.56,235.48 41.67,234.16 49.78,247.04 57.89,237.46 66,233.5 74.11,249.17 82.22,222.81 90.33,239.94 98.44,259.16 106.56,261.79 114.67,232.54 122.78,217.03 130.89,224.78 139,225.29 147.11,228.59 155.22,230.56 163.33,219.36 171.44,221.18 179.56,218.19 187.67,227.57 195.78,225.59 203.89,228.43 212,219.05 220.11,214.9 228.22,211.6 236.33,209.17 244.44,209.17" fill="none" stroke="#3d6fd2" stroke-width="1.3" stroke-linejoin="round"/>
<circle cx="33.56" cy="235.48" r="1.25" fill="#fff" stroke="#7a9ee0" stroke-width="0.5"/>
<circle cx="41.67" cy="234.16" r="1.25" fill="#fff" stroke="#7a9ee0" stroke-width="0.5"/>
<circle cx="49.78" cy="247.04" r="1.25" fill="#fff" stroke="#7a9ee0" stroke-width="0.5"/>
<circle cx="57.89" cy="237.46" r="1.25" fill="#fff" stroke="#7a9ee0" stroke-width="0.5"/>
<circle cx="66" cy="233.5" r="1.25" fill="#fff" stroke="#7a9ee0" stroke-width="0.5"/>
<circle cx="74.11" cy="249.17" r="1.25" fill="#fff" stroke="#7a9ee0" stroke-width="0.5"/>
<circle cx="82.22" cy="222.81" r="1.25" fill="#fff" stroke="#7a9ee0" stroke-width="0.5"/>
<circle cx="90.33" cy="239.94" r="1.25" fill="#fff" stroke="#7a9ee0" stroke-width="0.5"/>
<circle cx="98.44" cy="259.16" r="1.25" fill="#fff" stroke="#7a9ee0" stroke-width="0.5"/>
<circle cx="106.56" cy="261.79" r="1.25" fill="#fff" stroke="#7a9ee0" stroke-width="0.5"/>
<circle cx="114.67" cy="232.54" r="1.25" fill="#fff" stroke="#7a9ee0" stroke-width="0.5"/>
<circle cx="122.78" cy="217.03" r="1.25" fill="#fff" stroke="#7a9ee0" stroke-width="0.5"/>
<circle cx="130.89" cy="224.78" r="1.25" fill="#fff" stroke="#7a9ee0" stroke-width="0.5"/>
<circle cx="139" cy="225.29" r="1.25" fill="#fff" stroke="#7a9ee0" stroke-width="0.5"/>
<circle cx="147.11" cy="228.59" r="1.25" fill="#fff" stroke="#7a9ee0" stroke-width="0.5"/>
<circle cx="155.22" cy="230.56" r="1.25" fill="#fff" stroke="#7a9ee0" stroke-width="0.5"/>
<circle cx="163.33" cy="219.36" r="1.25" fill="#fff" stroke="#7a9ee0" stroke-width="0.5"/>
<circle cx="171.44" cy="221.18" r="1.25" fill="#fff" stroke="#7a9ee0" stroke-width="0.5"/>
<circle cx="179.56" cy="218.19" r="1.25" fill="#fff" stroke="#7a9ee0" stroke-width="0.5"/>
<circle cx="187.67" cy="227.57" r="1.25" fill="#fff" stroke="#7a9ee0" stroke-width="0.5"/>
<circle cx="195.78" cy="225.59" r="1.25" fill="#fff" stroke="#7a9ee0" stroke-width="0.5"/>
<circle cx="203.89" cy="228.43" r="1.25" fill="#fff" stroke="#7a9ee0" stroke-width="0.5"/>
<circle cx="212" cy="219.05" r="1.25" fill="#fff" stroke="#7a9ee0" stroke-width="0.5"/>
<circle cx="220.11" cy="214.9" r="1.25" fill="#fff" stroke="#7a9ee0" stroke-width="0.5"/>
<circle cx="228.22" cy="211.6" r="1.25" fill="#fff" stroke="#7a9ee0" stroke-width="0.5"/>
<circle cx="236.33" cy="209.17" r="1.25" fill="#fff" stroke="#7a9ee0" stroke-width="0.5"/>
<circle cx="244.44" cy="209.17" r="1.25" fill="#fff" stroke="#7a9ee0" stroke-width="0.5"/>
<path d="M33.56,238.47 C34.91,238.41 38.96,238.2 41.67,238.12 C44.37,238.03 47.07,237.72 49.78,237.96 C52.48,238.21 55.19,239.59 57.89,239.59 C60.59,239.59 63.3,238.51 66,237.96 C68.7,237.42 71.41,235.88 74.11,236.29 C76.81,236.71 79.52,238.88 82.22,240.45 C84.93,242.02 87.63,245.35 90.33,245.72 C93.04,246.09 95.74,243.42 98.44,242.68 C101.15,241.94 103.85,242.05 106.56,241.26 C109.26,240.47 111.96,239.61 114.67,237.96 C117.37,236.32 120.07,233.57 122.78,231.37 C125.48,229.18 128.19,225.86 130.89,224.78 C133.59,223.71 136.3,224.85 139,224.94 C141.7,225.02 144.41,225.37 147.11,225.29 C149.81,225.21 152.52,224.73 155.22,224.43 C157.93,224.12 160.63,223.74 163.33,223.46 C166.04,223.19 168.74,222.98 171.44,222.81 C174.15,222.63 176.85,222.21 179.56,222.4 C182.26,222.59 184.96,223.76 187.67,223.97 C190.37,224.18 193.07,223.93 195.78,223.67 C198.48,223.41 201.19,223.17 203.89,222.4 C206.59,221.63 209.3,220.16 212,219.05 C214.7,217.95 217.41,216.86 220.11,215.76 C222.81,214.66 225.52,213.34 228.22,212.46 C230.93,211.58 233.63,210.95 236.33,210.49 C239.04,210.02 243.09,209.81 244.44,209.67" fill="none" stroke="#ffc000" stroke-width="1.3" stroke-linejoin="round"/>
<rect x="276.5" y="166.5" width="269.5" height="136" fill="#fff" stroke="#ececec" stroke-width="1"/>
<text x="393.1" y="163.9" font-size="10" fill="#1a1a1a" stroke="#1a1a1a" stroke-width="0.25">(d) Southwestern</text>
<line x1="300.5" y1="197" x2="518.5" y2="197" stroke="#e2e2e2" stroke-width="0.8"/>
<line x1="300.5" y1="222.5" x2="518.5" y2="222.5" stroke="#e2e2e2" stroke-width="0.8"/>
<line x1="300.5" y1="248" x2="518.5" y2="248" stroke="#e2e2e2" stroke-width="0.8"/>
<rect x="302.99" y="171.5" width="3.1" height="27.27" fill="#ff0000"/>
<rect x="311.06" y="171.5" width="3.1" height="22.51" fill="#ff0000"/>
<rect x="319.14" y="171.5" width="3.1" height="22.51" fill="#ff0000"/>
<rect x="327.21" y="171.5" width="3.1" height="8.87" fill="#ff0000"/>
<rect x="335.28" y="171.5" width="3.1" height="6.39" fill="#ff0000"/>
<rect x="343.36" y="171.5" width="3.1" height="12.98" fill="#ff0000"/>
<rect x="351.43" y="171.5" width="3.1" height="6.39" fill="#ff0000"/>
<rect x="359.51" y="171.5" width="3.1" height="25.3" fill="#ff0000"/>
<rect x="367.58" y="171.5" width="3.1" height="15.11" fill="#ff0000"/>
<rect x="375.65" y="171.5" width="3.1" height="35.99" fill="#ff0000"/>
<rect x="383.73" y="171.5" width="3.1" height="12.11" fill="#ff0000"/>
<rect x="391.8" y="171.5" width="3.1" height="17.39" fill="#ff0000"/>
<rect x="399.88" y="171.5" width="3.1" height="5.88" fill="#ff0000"/>
<rect x="407.95" y="171.5" width="3.1" height="18.71" fill="#ff0000"/>
<rect x="416.02" y="171.5" width="3.1" height="35.18" fill="#ff0000"/>
<rect x="424.1" y="171.5" width="3.1" height="15.41" fill="#ff0000"/>
<rect x="432.17" y="171.5" width="3.1" height="5.07" fill="#ff0000"/>
<rect x="440.25" y="171.5" width="3.1" height="14.9" fill="#ff0000"/>
<rect x="448.32" y="171.5" width="3.1" height="31.89" fill="#ff0000"/>
<rect x="456.39" y="171.5" width="3.1" height="25.3" fill="#ff0000"/>
<rect x="464.47" y="171.5" width="3.1" height="8.01" fill="#ff0000"/>
<rect x="472.54" y="171.5" width="3.1" height="19.21" fill="#ff0000"/>
<rect x="480.62" y="171.5" width="3.1" height="5.88" fill="#ff0000"/>
<rect x="488.69" y="171.5" width="3.1" height="4.26" fill="#ff0000"/>
<rect x="496.76" y="171.5" width="3.1" height="1.11" fill="#ff0000"/>
<rect x="504.84" y="171.5" width="3.1" height="1.77" fill="#ff0000"/>
<rect x="512.91" y="171.5" width="3.1" height="2.23" fill="#ff0000"/>
<line x1="300.5" y1="171.5" x2="518.5" y2="171.5" stroke="#8c8c8c" stroke-width="0.9"/>
<line x1="300.5" y1="273.5" x2="518.5" y2="273.5" stroke="#8c8c8c" stroke-width="0.9"/>
<line x1="300.5" y1="171.5" x2="300.5" y2="273.5" stroke="#8c8c8c" stroke-width="1"/>
<line x1="518.5" y1="171.5" x2="518.5" y2="273.5" stroke="#8c8c8c" stroke-width="1"/>
<line x1="298.9" y1="171.5" x2="300.5" y2="171.5" stroke="#8c8c8c" stroke-width="0.8"/>
<line x1="518.5" y1="171.5" x2="520.1" y2="171.5" stroke="#8c8c8c" stroke-width="0.8"/>
<text transform="translate(297.1,173.2) scale(0.1)" font-size="41" text-anchor="end" fill="#222" stroke="#222" stroke-width="1.0">0</text>
<text transform="translate(522.9,173.4) scale(0.1)" font-size="41" fill="#222" stroke="#222" stroke-width="1.0">0</text>
<line x1="298.9" y1="197" x2="300.5" y2="197" stroke="#8c8c8c" stroke-width="0.8"/>
<line x1="518.5" y1="197" x2="520.1" y2="197" stroke="#8c8c8c" stroke-width="0.8"/>
<text transform="translate(297.1,198.7) scale(0.1)" font-size="41" text-anchor="end" fill="#222" stroke="#222" stroke-width="1.0">-0.5</text>
<text transform="translate(522.9,198.9) scale(0.1)" font-size="41" fill="#222" stroke="#222" stroke-width="1.0">400</text>
<line x1="298.9" y1="222.5" x2="300.5" y2="222.5" stroke="#8c8c8c" stroke-width="0.8"/>
<line x1="518.5" y1="222.5" x2="520.1" y2="222.5" stroke="#8c8c8c" stroke-width="0.8"/>
<text transform="translate(297.1,224.2) scale(0.1)" font-size="41" text-anchor="end" fill="#222" stroke="#222" stroke-width="1.0">-1</text>
<text transform="translate(522.9,224.4) scale(0.1)" font-size="41" fill="#222" stroke="#222" stroke-width="1.0">800</text>
<line x1="298.9" y1="248" x2="300.5" y2="248" stroke="#8c8c8c" stroke-width="0.8"/>
<line x1="518.5" y1="248" x2="520.1" y2="248" stroke="#8c8c8c" stroke-width="0.8"/>
<text transform="translate(297.1,249.7) scale(0.1)" font-size="41" text-anchor="end" fill="#222" stroke="#222" stroke-width="1.0">-1.5</text>
<text transform="translate(522.9,249.9) scale(0.1)" font-size="41" fill="#222" stroke="#222" stroke-width="1.0">1200</text>
<line x1="298.9" y1="273.5" x2="300.5" y2="273.5" stroke="#8c8c8c" stroke-width="0.8"/>
<line x1="518.5" y1="273.5" x2="520.1" y2="273.5" stroke="#8c8c8c" stroke-width="0.8"/>
<text transform="translate(297.1,275.2) scale(0.1)" font-size="41" text-anchor="end" fill="#222" stroke="#222" stroke-width="1.0">-2</text>
<text transform="translate(522.9,275.4) scale(0.1)" font-size="41" fill="#222" stroke="#222" stroke-width="1.0">1600</text>
<text transform="translate(306.94,277.7) rotate(-90) scale(0.1)" font-size="53" text-anchor="end" fill="#2a2a2a" stroke="#2a2a2a" stroke-width="1.4">1992</text>
<text transform="translate(315.01,277.7) rotate(-90) scale(0.1)" font-size="53" text-anchor="end" fill="#2a2a2a" stroke="#2a2a2a" stroke-width="1.4">1993</text>
<text transform="translate(323.09,277.7) rotate(-90) scale(0.1)" font-size="53" text-anchor="end" fill="#2a2a2a" stroke="#2a2a2a" stroke-width="1.4">1994</text>
<text transform="translate(331.16,277.7) rotate(-90) scale(0.1)" font-size="53" text-anchor="end" fill="#2a2a2a" stroke="#2a2a2a" stroke-width="1.4">1995</text>
<text transform="translate(339.23,277.7) rotate(-90) scale(0.1)" font-size="53" text-anchor="end" fill="#2a2a2a" stroke="#2a2a2a" stroke-width="1.4">1996</text>
<text transform="translate(347.31,277.7) rotate(-90) scale(0.1)" font-size="53" text-anchor="end" fill="#2a2a2a" stroke="#2a2a2a" stroke-width="1.4">1997</text>
<text transform="translate(355.38,277.7) rotate(-90) scale(0.1)" font-size="53" text-anchor="end" fill="#2a2a2a" stroke="#2a2a2a" stroke-width="1.4">1998</text>
<text transform="translate(363.46,277.7) rotate(-90) scale(0.1)" font-size="53" text-anchor="end" fill="#2a2a2a" stroke="#2a2a2a" stroke-width="1.4">1999</text>
<text transform="translate(371.53,277.7) rotate(-90) scale(0.1)" font-size="53" text-anchor="end" fill="#2a2a2a" stroke="#2a2a2a" stroke-width="1.4">2000</text>
<text transform="translate(379.6,277.7) rotate(-90) scale(0.1)" font-size="53" text-anchor="end" fill="#2a2a2a" stroke="#2a2a2a" stroke-width="1.4">2001</text>
<text transform="translate(387.68,277.7) rotate(-90) scale(0.1)" font-size="53" text-anchor="end" fill="#2a2a2a" stroke="#2a2a2a" stroke-width="1.4">2002</text>
<text transform="translate(395.75,277.7) rotate(-90) scale(0.1)" font-size="53" text-anchor="end" fill="#2a2a2a" stroke="#2a2a2a" stroke-width="1.4">2003</text>
<text transform="translate(403.83,277.7) rotate(-90) scale(0.1)" font-size="53" text-anchor="end" fill="#2a2a2a" stroke="#2a2a2a" stroke-width="1.4">2004</text>
<text transform="translate(411.9,277.7) rotate(-90) scale(0.1)" font-size="53" text-anchor="end" fill="#2a2a2a" stroke="#2a2a2a" stroke-width="1.4">2005</text>
<text transform="translate(419.97,277.7) rotate(-90) scale(0.1)" font-size="53" text-anchor="end" fill="#2a2a2a" stroke="#2a2a2a" stroke-width="1.4">2006</text>
<text transform="translate(428.05,277.7) rotate(-90) scale(0.1)" font-size="53" text-anchor="end" fill="#2a2a2a" stroke="#2a2a2a" stroke-width="1.4">2007</text>
<text transform="translate(436.12,277.7) rotate(-90) scale(0.1)" font-size="53" text-anchor="end" fill="#2a2a2a" stroke="#2a2a2a" stroke-width="1.4">2008</text>
<text transform="translate(444.2,277.7) rotate(-90) scale(0.1)" font-size="53" text-anchor="end" fill="#2a2a2a" stroke="#2a2a2a" stroke-width="1.4">2009</text>
<text transform="translate(452.27,277.7) rotate(-90) scale(0.1)" font-size="53" text-anchor="end" fill="#2a2a2a" stroke="#2a2a2a" stroke-width="1.4">2010</text>
<text transform="translate(460.34,277.7) rotate(-90) scale(0.1)" font-size="53" text-anchor="end" fill="#2a2a2a" stroke="#2a2a2a" stroke-width="1.4">2011</text>
<text transform="translate(468.42,277.7) rotate(-90) scale(0.1)" font-size="53" text-anchor="end" fill="#2a2a2a" stroke="#2a2a2a" stroke-width="1.4">2012</text>
<text transform="translate(476.49,277.7) rotate(-90) scale(0.1)" font-size="53" text-anchor="end" fill="#2a2a2a" stroke="#2a2a2a" stroke-width="1.4">2013</text>
<text transform="translate(484.57,277.7) rotate(-90) scale(0.1)" font-size="53" text-anchor="end" fill="#2a2a2a" stroke="#2a2a2a" stroke-width="1.4">2014</text>
<text transform="translate(492.64,277.7) rotate(-90) scale(0.1)" font-size="53" text-anchor="end" fill="#2a2a2a" stroke="#2a2a2a" stroke-width="1.4">2015</text>
<text transform="translate(500.71,277.7) rotate(-90) scale(0.1)" font-size="53" text-anchor="end" fill="#2a2a2a" stroke="#2a2a2a" stroke-width="1.4">2016</text>
<text transform="translate(508.79,277.7) rotate(-90) scale(0.1)" font-size="53" text-anchor="end" fill="#2a2a2a" stroke="#2a2a2a" stroke-width="1.4">2017</text>
<text transform="translate(516.86,277.7) rotate(-90) scale(0.1)" font-size="53" text-anchor="end" fill="#2a2a2a" stroke="#2a2a2a" stroke-width="1.4">2018</text>
<text transform="translate(288.5,222.5) rotate(-90)" font-size="7.2" text-anchor="middle" fill="#1a1a1a" stroke="#1a1a1a" stroke-width="0.08">Drought Intensity</text>
<text transform="translate(541.4,222.5) rotate(-90)" font-size="7.5" text-anchor="middle" fill="#1a1a1a" stroke="#1a1a1a" stroke-width="0.08">Drought-affected crop area</text>
<line x1="304.24" y1="186.91" x2="515.06" y2="186.91" stroke="#d46a1e" stroke-width="1.5" stroke-dasharray="2.7,1.7"/>
<polyline points="304.54,219.51 312.61,205.87 320.69,216.57 328.76,217.38 336.83,206.99 344.91,215.25 352.98,208.81 361.06,221.84 369.13,196.29 377.2,224.78 385.28,208 393.35,218.7 401.43,210.28 409.5,219.05 417.57,229.4 425.65,211.14 433.72,206.68 441.8,220.98 449.87,229.4 457.94,212.11 466.02,217.03 474.09,221.49 482.17,211.6 490.24,200.9 498.31,201.77 506.39,195.48 514.46,197.96" fill="none" stroke="#3d6fd2" stroke-width="1.3" stroke-linejoin="round"/>
<circle cx="304.54" cy="219.51" r="1.25" fill="#fff" stroke="#7a9ee0" stroke-width="0.5"/>
<circle cx="312.61" cy="205.87" r="1.25" fill="#fff" stroke="#7a9ee0" stroke-width="0.5"/>
<circle cx="320.69" cy="216.57" r="1.25" fill="#fff" stroke="#7a9ee0" stroke-width="0.5"/>
<circle cx="328.76" cy="217.38" r="1.25" fill="#fff" stroke="#7a9ee0" stroke-width="0.5"/>
<circle cx="336.83" cy="206.99" r="1.25" fill="#fff" stroke="#7a9ee0" stroke-width="0.5"/>
<circle cx="344.91" cy="215.25" r="1.25" fill="#fff" stroke="#7a9ee0" stroke-width="0.5"/>
<circle cx="352.98" cy="208.81" r="1.25" fill="#fff" stroke="#7a9ee0" stroke-width="0.5"/>
<circle cx="361.06" cy="221.84" r="1.25" fill="#fff" stroke="#7a9ee0" stroke-width="0.5"/>
<circle cx="369.13" cy="196.29" r="1.25" fill="#fff" stroke="#7a9ee0" stroke-width="0.5"/>
<circle cx="377.2" cy="224.78" r="1.25" fill="#fff" stroke="#7a9ee0" stroke-width="0.5"/>
<circle cx="385.28" cy="208" r="1.25" fill="#fff" stroke="#7a9ee0" stroke-width="0.5"/>
<circle cx="393.35" cy="218.7" r="1.25" fill="#fff" stroke="#7a9ee0" stroke-width="0.5"/>
<circle cx="401.43" cy="210.28" r="1.25" fill="#fff" stroke="#7a9ee0" stroke-width="0.5"/>
<circle cx="409.5" cy="219.05" r="1.25" fill="#fff" stroke="#7a9ee0" stroke-width="0.5"/>
<circle cx="417.57" cy="229.4" r="1.25" fill="#fff" stroke="#7a9ee0" stroke-width="0.5"/>
<circle cx="425.65" cy="211.14" r="1.25" fill="#fff" stroke="#7a9ee0" stroke-width="0.5"/>
<circle cx="433.72" cy="206.68" r="1.25" fill="#fff" stroke="#7a9ee0" stroke-width="0.5"/>
<circle cx="441.8" cy="220.98" r="1.25" fill="#fff" stroke="#7a9ee0" stroke-width="0.5"/>
<circle cx="449.87" cy="229.4" r="1.25" fill="#fff" stroke="#7a9ee0" stroke-width="0.5"/>
<circle cx="457.94" cy="212.11" r="1.25" fill="#fff" stroke="#7a9ee0" stroke-width="0.5"/>
<circle cx="466.02" cy="217.03" r="1.25" fill="#fff" stroke="#7a9ee0" stroke-width="0.5"/>
<circle cx="474.09" cy="221.49" r="1.25" fill="#fff" stroke="#7a9ee0" stroke-width="0.5"/>
<circle cx="482.17" cy="211.6" r="1.25" fill="#fff" stroke="#7a9ee0" stroke-width="0.5"/>
<circle cx="490.24" cy="200.9" r="1.25" fill="#fff" stroke="#7a9ee0" stroke-width="0.5"/>
<circle cx="498.31" cy="201.77" r="1.25" fill="#fff" stroke="#7a9ee0" stroke-width="0.5"/>
<circle cx="506.39" cy="195.48" r="1.25" fill="#fff" stroke="#7a9ee0" stroke-width="0.5"/>
<circle cx="514.46" cy="197.96" r="1.25" fill="#fff" stroke="#7a9ee0" stroke-width="0.5"/>
<path d="M304.54,213.43 C305.88,213.6 309.92,214.55 312.61,214.44 C315.3,214.33 317.99,213.21 320.69,212.77 C323.38,212.33 326.07,211.85 328.76,211.8 C331.45,211.75 334.14,212.17 336.83,212.46 C339.52,212.76 342.22,214.08 344.91,213.58 C347.6,213.08 350.29,209.61 352.98,209.47 C355.67,209.34 358.36,212.41 361.06,212.77 C363.75,213.12 366.44,211.52 369.13,211.6 C371.82,211.69 374.51,213.35 377.2,213.27 C379.9,213.2 382.59,210.73 385.28,211.14 C387.97,211.56 390.66,214.85 393.35,215.76 C396.04,216.66 398.73,216.3 401.43,216.57 C404.12,216.84 406.81,217.66 409.5,217.38 C412.19,217.1 414.88,214.95 417.57,214.9 C420.27,214.85 422.96,216.38 425.65,217.08 C428.34,217.77 431.03,219.27 433.72,219.05 C436.41,218.83 439.1,215.9 441.8,215.76 C444.49,215.61 447.18,217.42 449.87,218.19 C452.56,218.96 455.25,220.45 457.94,220.37 C460.64,220.3 463.33,219.05 466.02,217.74 C468.71,216.42 471.4,213.76 474.09,212.46 C476.78,211.17 479.48,211.08 482.17,209.98 C484.86,208.88 487.55,207.24 490.24,205.87 C492.93,204.5 495.62,202.92 498.31,201.77 C501.01,200.61 503.7,199.62 506.39,198.93 C509.08,198.23 513.12,197.83 514.46,197.61" fill="none" stroke="#ffc000" stroke-width="1.3" stroke-linejoin="round"/>
<rect x="5.5" y="318.5" width="269.5" height="135" fill="#fff" stroke="#ececec" stroke-width="1"/>
<text x="116.7" y="315.6" font-size="10" fill="#1a1a1a" stroke="#1a1a1a" stroke-width="0.25">(e) Yangtze River</text>
<line x1="29.5" y1="348.75" x2="248.5" y2="348.75" stroke="#e2e2e2" stroke-width="0.8"/>
<line x1="29.5" y1="374" x2="248.5" y2="374" stroke="#e2e2e2" stroke-width="0.8"/>
<line x1="29.5" y1="399.25" x2="248.5" y2="399.25" stroke="#e2e2e2" stroke-width="0.8"/>
<rect x="32.11" y="323.5" width="3.6" height="46.34" fill="#ff0000"/>
<rect x="40.2" y="323.5" width="3.6" height="13.44" fill="#ff0000"/>
<rect x="48.3" y="323.5" width="3.6" height="33.67" fill="#ff0000"/>
<rect x="56.4" y="323.5" width="3.6" height="30.37" fill="#ff0000"/>
<rect x="64.5" y="323.5" width="3.6" height="24.64" fill="#ff0000"/>
<rect x="72.59" y="323.5" width="3.6" height="31.03" fill="#ff0000"/>
<rect x="80.69" y="323.5" width="3.6" height="18.86" fill="#ff0000"/>
<rect x="88.79" y="323.5" width="3.6" height="5.68" fill="#ff0000"/>
<rect x="96.89" y="323.5" width="3.6" height="56.23" fill="#ff0000"/>
<rect x="104.98" y="323.5" width="3.6" height="43.86" fill="#ff0000"/>
<rect x="113.08" y="323.5" width="3.6" height="5.18" fill="#ff0000"/>
<rect x="121.18" y="323.5" width="3.6" height="29.06" fill="#ff0000"/>
<rect x="129.28" y="323.5" width="3.6" height="11.77" fill="#ff0000"/>
<rect x="137.38" y="323.5" width="3.6" height="15.92" fill="#ff0000"/>
<rect x="145.47" y="323.5" width="3.6" height="15.06" fill="#ff0000"/>
<rect x="153.57" y="323.5" width="3.6" height="14.25" fill="#ff0000"/>
<rect x="161.67" y="323.5" width="3.6" height="3.2" fill="#ff0000"/>
<rect x="169.77" y="323.5" width="3.6" height="17.24" fill="#ff0000"/>
<rect x="177.86" y="323.5" width="3.6" height="3.55" fill="#ff0000"/>
<rect x="185.96" y="323.5" width="3.6" height="24.95" fill="#ff0000"/>
<rect x="194.06" y="323.5" width="3.6" height="11.31" fill="#ff0000"/>
<rect x="202.16" y="323.5" width="3.6" height="27.43" fill="#ff0000"/>
<rect x="210.25" y="323.5" width="3.6" height="8.01" fill="#ff0000"/>
<rect x="218.35" y="323.5" width="3.6" height="1.42" fill="#ff0000"/>
<rect x="226.45" y="323.5" width="3.6" height="3.86" fill="#ff0000"/>
<rect x="234.55" y="323.5" width="3.6" height="6.34" fill="#ff0000"/>
<rect x="242.64" y="323.5" width="3.6" height="5.53" fill="#ff0000"/>
<line x1="29.5" y1="323.5" x2="248.5" y2="323.5" stroke="#8c8c8c" stroke-width="0.9"/>
<line x1="29.5" y1="424.5" x2="248.5" y2="424.5" stroke="#8c8c8c" stroke-width="0.9"/>
<line x1="29.5" y1="323.5" x2="29.5" y2="424.5" stroke="#8c8c8c" stroke-width="1"/>
<line x1="248.5" y1="323.5" x2="248.5" y2="424.5" stroke="#8c8c8c" stroke-width="1"/>
<line x1="27.9" y1="323.5" x2="29.5" y2="323.5" stroke="#8c8c8c" stroke-width="0.8"/>
<line x1="248.5" y1="323.5" x2="250.1" y2="323.5" stroke="#8c8c8c" stroke-width="0.8"/>
<text transform="translate(26.1,325.2) scale(0.1)" font-size="41" text-anchor="end" fill="#222" stroke="#222" stroke-width="1.0">0</text>
<text transform="translate(252.9,325.4) scale(0.1)" font-size="41" fill="#222" stroke="#222" stroke-width="1.0">0</text>
<line x1="27.9" y1="348.75" x2="29.5" y2="348.75" stroke="#8c8c8c" stroke-width="0.8"/>
<line x1="248.5" y1="348.75" x2="250.1" y2="348.75" stroke="#8c8c8c" stroke-width="0.8"/>
<text transform="translate(26.1,350.45) scale(0.1)" font-size="41" text-anchor="end" fill="#222" stroke="#222" stroke-width="1.0">-0.5</text>
<text transform="translate(252.9,350.65) scale(0.1)" font-size="41" fill="#222" stroke="#222" stroke-width="1.0">400</text>
<line x1="27.9" y1="374" x2="29.5" y2="374" stroke="#8c8c8c" stroke-width="0.8"/>
<line x1="248.5" y1="374" x2="250.1" y2="374" stroke="#8c8c8c" stroke-width="0.8"/>
<text transform="translate(26.1,375.7) scale(0.1)" font-size="41" text-anchor="end" fill="#222" stroke="#222" stroke-width="1.0">-1</text>
<text transform="translate(252.9,375.9) scale(0.1)" font-size="41" fill="#222" stroke="#222" stroke-width="1.0">800</text>
<line x1="27.9" y1="399.25" x2="29.5" y2="399.25" stroke="#8c8c8c" stroke-width="0.8"/>
<line x1="248.5" y1="399.25" x2="250.1" y2="399.25" stroke="#8c8c8c" stroke-width="0.8"/>
<text transform="translate(26.1,400.95) scale(0.1)" font-size="41" text-anchor="end" fill="#222" stroke="#222" stroke-width="1.0">-1.5</text>
<text transform="translate(252.9,401.15) scale(0.1)" font-size="41" fill="#222" stroke="#222" stroke-width="1.0">1200</text>
<line x1="27.9" y1="424.5" x2="29.5" y2="424.5" stroke="#8c8c8c" stroke-width="0.8"/>
<line x1="248.5" y1="424.5" x2="250.1" y2="424.5" stroke="#8c8c8c" stroke-width="0.8"/>
<text transform="translate(26.1,426.2) scale(0.1)" font-size="41" text-anchor="end" fill="#222" stroke="#222" stroke-width="1.0">-2</text>
<text transform="translate(252.9,426.4) scale(0.1)" font-size="41" fill="#222" stroke="#222" stroke-width="1.0">1600</text>
<text transform="translate(36.31,428.7) rotate(-90) scale(0.1)" font-size="53" text-anchor="end" fill="#2a2a2a" stroke="#2a2a2a" stroke-width="1.4">1992</text>
<text transform="translate(44.4,428.7) rotate(-90) scale(0.1)" font-size="53" text-anchor="end" fill="#2a2a2a" stroke="#2a2a2a" stroke-width="1.4">1993</text>
<text transform="translate(52.5,428.7) rotate(-90) scale(0.1)" font-size="53" text-anchor="end" fill="#2a2a2a" stroke="#2a2a2a" stroke-width="1.4">1994</text>
<text transform="translate(60.6,428.7) rotate(-90) scale(0.1)" font-size="53" text-anchor="end" fill="#2a2a2a" stroke="#2a2a2a" stroke-width="1.4">1995</text>
<text transform="translate(68.7,428.7) rotate(-90) scale(0.1)" font-size="53" text-anchor="end" fill="#2a2a2a" stroke="#2a2a2a" stroke-width="1.4">1996</text>
<text transform="translate(76.79,428.7) rotate(-90) scale(0.1)" font-size="53" text-anchor="end" fill="#2a2a2a" stroke="#2a2a2a" stroke-width="1.4">1997</text>
<text transform="translate(84.89,428.7) rotate(-90) scale(0.1)" font-size="53" text-anchor="end" fill="#2a2a2a" stroke="#2a2a2a" stroke-width="1.4">1998</text>
<text transform="translate(92.99,428.7) rotate(-90) scale(0.1)" font-size="53" text-anchor="end" fill="#2a2a2a" stroke="#2a2a2a" stroke-width="1.4">1999</text>
<text transform="translate(101.09,428.7) rotate(-90) scale(0.1)" font-size="53" text-anchor="end" fill="#2a2a2a" stroke="#2a2a2a" stroke-width="1.4">2000</text>
<text transform="translate(109.18,428.7) rotate(-90) scale(0.1)" font-size="53" text-anchor="end" fill="#2a2a2a" stroke="#2a2a2a" stroke-width="1.4">2001</text>
<text transform="translate(117.28,428.7) rotate(-90) scale(0.1)" font-size="53" text-anchor="end" fill="#2a2a2a" stroke="#2a2a2a" stroke-width="1.4">2002</text>
<text transform="translate(125.38,428.7) rotate(-90) scale(0.1)" font-size="53" text-anchor="end" fill="#2a2a2a" stroke="#2a2a2a" stroke-width="1.4">2003</text>
<text transform="translate(133.48,428.7) rotate(-90) scale(0.1)" font-size="53" text-anchor="end" fill="#2a2a2a" stroke="#2a2a2a" stroke-width="1.4">2004</text>
<text transform="translate(141.58,428.7) rotate(-90) scale(0.1)" font-size="53" text-anchor="end" fill="#2a2a2a" stroke="#2a2a2a" stroke-width="1.4">2005</text>
<text transform="translate(149.67,428.7) rotate(-90) scale(0.1)" font-size="53" text-anchor="end" fill="#2a2a2a" stroke="#2a2a2a" stroke-width="1.4">2006</text>
<text transform="translate(157.77,428.7) rotate(-90) scale(0.1)" font-size="53" text-anchor="end" fill="#2a2a2a" stroke="#2a2a2a" stroke-width="1.4">2007</text>
<text transform="translate(165.87,428.7) rotate(-90) scale(0.1)" font-size="53" text-anchor="end" fill="#2a2a2a" stroke="#2a2a2a" stroke-width="1.4">2008</text>
<text transform="translate(173.97,428.7) rotate(-90) scale(0.1)" font-size="53" text-anchor="end" fill="#2a2a2a" stroke="#2a2a2a" stroke-width="1.4">2009</text>
<text transform="translate(182.06,428.7) rotate(-90) scale(0.1)" font-size="53" text-anchor="end" fill="#2a2a2a" stroke="#2a2a2a" stroke-width="1.4">2010</text>
<text transform="translate(190.16,428.7) rotate(-90) scale(0.1)" font-size="53" text-anchor="end" fill="#2a2a2a" stroke="#2a2a2a" stroke-width="1.4">2011</text>
<text transform="translate(198.26,428.7) rotate(-90) scale(0.1)" font-size="53" text-anchor="end" fill="#2a2a2a" stroke="#2a2a2a" stroke-width="1.4">2012</text>
<text transform="translate(206.36,428.7) rotate(-90) scale(0.1)" font-size="53" text-anchor="end" fill="#2a2a2a" stroke="#2a2a2a" stroke-width="1.4">2013</text>
<text transform="translate(214.45,428.7) rotate(-90) scale(0.1)" font-size="53" text-anchor="end" fill="#2a2a2a" stroke="#2a2a2a" stroke-width="1.4">2014</text>
<text transform="translate(222.55,428.7) rotate(-90) scale(0.1)" font-size="53" text-anchor="end" fill="#2a2a2a" stroke="#2a2a2a" stroke-width="1.4">2015</text>
<text transform="translate(230.65,428.7) rotate(-90) scale(0.1)" font-size="53" text-anchor="end" fill="#2a2a2a" stroke="#2a2a2a" stroke-width="1.4">2016</text>
<text transform="translate(238.75,428.7) rotate(-90) scale(0.1)" font-size="53" text-anchor="end" fill="#2a2a2a" stroke="#2a2a2a" stroke-width="1.4">2017</text>
<text transform="translate(246.84,428.7) rotate(-90) scale(0.1)" font-size="53" text-anchor="end" fill="#2a2a2a" stroke="#2a2a2a" stroke-width="1.4">2018</text>
<text transform="translate(16.6,374) rotate(-90)" font-size="7.2" text-anchor="middle" fill="#1a1a1a" stroke="#1a1a1a" stroke-width="0.08">Drought Intensity</text>
<text transform="translate(269.8,374) rotate(-90)" font-size="7.5" text-anchor="middle" fill="#1a1a1a" stroke="#1a1a1a" stroke-width="0.08">Drought-affected crop area</text>
<line x1="33.61" y1="342.36" x2="245.04" y2="342.36" stroke="#d46a1e" stroke-width="1.5" stroke-dasharray="2.7,1.7"/>
<polyline points="33.91,374.31 42,339.73 50.1,359.96 58.2,366.55 66.3,352.05 74.39,362.75 82.49,356.21 90.59,348.45 98.69,386.83 106.78,378.31 114.88,345.96 122.98,363.25 131.08,368.53 139.18,355.85 147.27,359.5 155.37,356.66 163.47,341.86 171.57,354.53 179.66,340.74 187.76,350.12 195.86,345.96 203.96,360.46 212.05,343.99 220.15,335.77 228.25,349.61 236.35,339.07 244.44,339.07" fill="none" stroke="#3d6fd2" stroke-width="1.3" stroke-linejoin="round"/>
<circle cx="33.91" cy="374.31" r="1.25" fill="#fff" stroke="#7a9ee0" stroke-width="0.5"/>
<circle cx="42" cy="339.73" r="1.25" fill="#fff" stroke="#7a9ee0" stroke-width="0.5"/>
<circle cx="50.1" cy="359.96" r="1.25" fill="#fff" stroke="#7a9ee0" stroke-width="0.5"/>
<circle cx="58.2" cy="366.55" r="1.25" fill="#fff" stroke="#7a9ee0" stroke-width="0.5"/>
<circle cx="66.3" cy="352.05" r="1.25" fill="#fff" stroke="#7a9ee0" stroke-width="0.5"/>
<circle cx="74.39" cy="362.75" r="1.25" fill="#fff" stroke="#7a9ee0" stroke-width="0.5"/>
<circle cx="82.49" cy="356.21" r="1.25" fill="#fff" stroke="#7a9ee0" stroke-width="0.5"/>
<circle cx="90.59" cy="348.45" r="1.25" fill="#fff" stroke="#7a9ee0" stroke-width="0.5"/>
<circle cx="98.69" cy="386.83" r="1.25" fill="#fff" stroke="#7a9ee0" stroke-width="0.5"/>
<circle cx="106.78" cy="378.31" r="1.25" fill="#fff" stroke="#7a9ee0" stroke-width="0.5"/>
<circle cx="114.88" cy="345.96" r="1.25" fill="#fff" stroke="#7a9ee0" stroke-width="0.5"/>
<circle cx="122.98" cy="363.25" r="1.25" fill="#fff" stroke="#7a9ee0" stroke-width="0.5"/>
<circle cx="131.08" cy="368.53" r="1.25" fill="#fff" stroke="#7a9ee0" stroke-width="0.5"/>
<circle cx="139.18" cy="355.85" r="1.25" fill="#fff" stroke="#7a9ee0" stroke-width="0.5"/>
<circle cx="147.27" cy="359.5" r="1.25" fill="#fff" stroke="#7a9ee0" stroke-width="0.5"/>
<circle cx="155.37" cy="356.66" r="1.25" fill="#fff" stroke="#7a9ee0" stroke-width="0.5"/>
<circle cx="163.47" cy="341.86" r="1.25" fill="#fff" stroke="#7a9ee0" stroke-width="0.5"/>
<circle cx="171.57" cy="354.53" r="1.25" fill="#fff" stroke="#7a9ee0" stroke-width="0.5"/>
<circle cx="179.66" cy="340.74" r="1.25" fill="#fff" stroke="#7a9ee0" stroke-width="0.5"/>
<circle cx="187.76" cy="350.12" r="1.25" fill="#fff" stroke="#7a9ee0" stroke-width="0.5"/>
<circle cx="195.86" cy="345.96" r="1.25" fill="#fff" stroke="#7a9ee0" stroke-width="0.5"/>
<circle cx="203.96" cy="360.46" r="1.25" fill="#fff" stroke="#7a9ee0" stroke-width="0.5"/>
<circle cx="212.05" cy="343.99" r="1.25" fill="#fff" stroke="#7a9ee0" stroke-width="0.5"/>
<circle cx="220.15" cy="335.77" r="1.25" fill="#fff" stroke="#7a9ee0" stroke-width="0.5"/>
<circle cx="228.25" cy="349.61" r="1.25" fill="#fff" stroke="#7a9ee0" stroke-width="0.5"/>
<circle cx="236.35" cy="339.07" r="1.25" fill="#fff" stroke="#7a9ee0" stroke-width="0.5"/>
<circle cx="244.44" cy="339.07" r="1.25" fill="#fff" stroke="#7a9ee0" stroke-width="0.5"/>
<path d="M33.91,357.98 C35.26,358.26 39.3,359.65 42,359.65 C44.7,359.65 47.4,358.53 50.1,357.98 C52.8,357.43 55.5,356.21 58.2,356.36 C60.9,356.5 63.6,358.73 66.3,358.84 C69,358.95 71.69,356.64 74.39,357.02 C77.09,357.4 79.79,359.61 82.49,361.12 C85.19,362.64 87.89,365.87 90.59,366.09 C93.29,366.31 95.99,362.77 98.69,362.44 C101.39,362.11 104.09,363.15 106.78,364.11 C109.48,365.08 112.18,368.55 114.88,368.22 C117.58,367.89 120.28,363.79 122.98,362.14 C125.68,360.49 128.38,358.61 131.08,358.34 C133.78,358.06 136.48,360.74 139.18,360.46 C141.87,360.19 144.57,357.76 147.27,356.66 C149.97,355.56 152.67,354.89 155.37,353.87 C158.07,352.86 160.77,351.48 163.47,350.58 C166.17,349.67 168.87,349.16 171.57,348.45 C174.26,347.74 176.96,346.18 179.66,346.32 C182.36,346.45 185.06,349.04 187.76,349.26 C190.46,349.48 193.16,347.97 195.86,347.64 C198.56,347.31 201.26,347.61 203.96,347.28 C206.66,346.95 209.35,346.1 212.05,345.66 C214.75,345.22 217.45,345.28 220.15,344.65 C222.85,344.01 225.55,342.51 228.25,341.86 C230.95,341.21 233.65,340.74 236.35,340.74 C239.05,340.74 243.09,341.67 244.44,341.86" fill="none" stroke="#ffc000" stroke-width="1.3" stroke-linejoin="round"/>
<rect x="276" y="318.5" width="270" height="135" fill="#fff" stroke="#ececec" stroke-width="1"/>
<text x="394.4" y="315.6" font-size="10" fill="#1a1a1a" stroke="#1a1a1a" stroke-width="0.25">(f) Southern</text>
<line x1="300.5" y1="348.75" x2="519.5" y2="348.75" stroke="#e2e2e2" stroke-width="0.8"/>
<line x1="300.5" y1="374" x2="519.5" y2="374" stroke="#e2e2e2" stroke-width="0.8"/>
<line x1="300.5" y1="399.25" x2="519.5" y2="399.25" stroke="#e2e2e2" stroke-width="0.8"/>
<rect x="303.01" y="323.5" width="3.1" height="8.17" fill="#ff0000"/>
<rect x="311.12" y="323.5" width="3.1" height="5.18" fill="#ff0000"/>
<rect x="319.23" y="323.5" width="3.1" height="5.18" fill="#ff0000"/>
<rect x="327.34" y="323.5" width="3.1" height="6.04" fill="#ff0000"/>
<rect x="335.45" y="323.5" width="3.1" height="11.77" fill="#ff0000"/>
<rect x="343.56" y="323.5" width="3.1" height="5.18" fill="#ff0000"/>
<rect x="351.67" y="323.5" width="3.1" height="8.47" fill="#ff0000"/>
<rect x="359.78" y="323.5" width="3.1" height="5.18" fill="#ff0000"/>
<rect x="367.89" y="323.5" width="3.1" height="5.18" fill="#ff0000"/>
<rect x="376.01" y="323.5" width="3.1" height="7.1" fill="#ff0000"/>
<rect x="384.12" y="323.5" width="3.1" height="10.45" fill="#ff0000"/>
<rect x="392.23" y="323.5" width="3.1" height="11.31" fill="#ff0000"/>
<rect x="400.34" y="323.5" width="3.1" height="13.9" fill="#ff0000"/>
<rect x="408.45" y="323.5" width="3.1" height="7.66" fill="#ff0000"/>
<rect x="416.56" y="323.5" width="3.1" height="4.36" fill="#ff0000"/>
<rect x="424.67" y="323.5" width="3.1" height="8.01" fill="#ff0000"/>
<rect x="432.78" y="323.5" width="3.1" height="2.39" fill="#ff0000"/>
<rect x="440.89" y="323.5" width="3.1" height="6.34" fill="#ff0000"/>
<rect x="449.01" y="323.5" width="3.1" height="7.36" fill="#ff0000"/>
<rect x="457.12" y="323.5" width="3.1" height="3.05" fill="#ff0000"/>
<rect x="489.56" y="323.5" width="3.1" height="1.93" fill="#ff0000"/>
<rect x="513.89" y="323.5" width="3.1" height="1.07" fill="#ff0000"/>
<line x1="300.5" y1="323.5" x2="519.5" y2="323.5" stroke="#8c8c8c" stroke-width="0.9"/>
<line x1="300.5" y1="424.5" x2="519.5" y2="424.5" stroke="#8c8c8c" stroke-width="0.9"/>
<line x1="300.5" y1="323.5" x2="300.5" y2="424.5" stroke="#8c8c8c" stroke-width="1"/>
<line x1="519.5" y1="323.5" x2="519.5" y2="424.5" stroke="#8c8c8c" stroke-width="1"/>
<line x1="298.9" y1="323.5" x2="300.5" y2="323.5" stroke="#8c8c8c" stroke-width="0.8"/>
<line x1="519.5" y1="323.5" x2="521.1" y2="323.5" stroke="#8c8c8c" stroke-width="0.8"/>
<text transform="translate(297.1,325.2) scale(0.1)" font-size="41" text-anchor="end" fill="#222" stroke="#222" stroke-width="1.0">0</text>
<text transform="translate(523.9,325.4) scale(0.1)" font-size="41" fill="#222" stroke="#222" stroke-width="1.0">0</text>
<line x1="298.9" y1="348.75" x2="300.5" y2="348.75" stroke="#8c8c8c" stroke-width="0.8"/>
<line x1="519.5" y1="348.75" x2="521.1" y2="348.75" stroke="#8c8c8c" stroke-width="0.8"/>
<text transform="translate(297.1,350.45) scale(0.1)" font-size="41" text-anchor="end" fill="#222" stroke="#222" stroke-width="1.0">-0.5</text>
<text transform="translate(523.9,350.65) scale(0.1)" font-size="41" fill="#222" stroke="#222" stroke-width="1.0">400</text>
<line x1="298.9" y1="374" x2="300.5" y2="374" stroke="#8c8c8c" stroke-width="0.8"/>
<line x1="519.5" y1="374" x2="521.1" y2="374" stroke="#8c8c8c" stroke-width="0.8"/>
<text transform="translate(297.1,375.7) scale(0.1)" font-size="41" text-anchor="end" fill="#222" stroke="#222" stroke-width="1.0">-1</text>
<text transform="translate(523.9,375.9) scale(0.1)" font-size="41" fill="#222" stroke="#222" stroke-width="1.0">800</text>
<line x1="298.9" y1="399.25" x2="300.5" y2="399.25" stroke="#8c8c8c" stroke-width="0.8"/>
<line x1="519.5" y1="399.25" x2="521.1" y2="399.25" stroke="#8c8c8c" stroke-width="0.8"/>
<text transform="translate(297.1,400.95) scale(0.1)" font-size="41" text-anchor="end" fill="#222" stroke="#222" stroke-width="1.0">-1.5</text>
<text transform="translate(523.9,401.15) scale(0.1)" font-size="41" fill="#222" stroke="#222" stroke-width="1.0">1200</text>
<line x1="298.9" y1="424.5" x2="300.5" y2="424.5" stroke="#8c8c8c" stroke-width="0.8"/>
<line x1="519.5" y1="424.5" x2="521.1" y2="424.5" stroke="#8c8c8c" stroke-width="0.8"/>
<text transform="translate(297.1,426.2) scale(0.1)" font-size="41" text-anchor="end" fill="#222" stroke="#222" stroke-width="1.0">-2</text>
<text transform="translate(523.9,426.4) scale(0.1)" font-size="41" fill="#222" stroke="#222" stroke-width="1.0">1600</text>
<text transform="translate(306.96,428.7) rotate(-90) scale(0.1)" font-size="53" text-anchor="end" fill="#2a2a2a" stroke="#2a2a2a" stroke-width="1.4">1992</text>
<text transform="translate(315.07,428.7) rotate(-90) scale(0.1)" font-size="53" text-anchor="end" fill="#2a2a2a" stroke="#2a2a2a" stroke-width="1.4">1993</text>
<text transform="translate(323.18,428.7) rotate(-90) scale(0.1)" font-size="53" text-anchor="end" fill="#2a2a2a" stroke="#2a2a2a" stroke-width="1.4">1994</text>
<text transform="translate(331.29,428.7) rotate(-90) scale(0.1)" font-size="53" text-anchor="end" fill="#2a2a2a" stroke="#2a2a2a" stroke-width="1.4">1995</text>
<text transform="translate(339.4,428.7) rotate(-90) scale(0.1)" font-size="53" text-anchor="end" fill="#2a2a2a" stroke="#2a2a2a" stroke-width="1.4">1996</text>
<text transform="translate(347.51,428.7) rotate(-90) scale(0.1)" font-size="53" text-anchor="end" fill="#2a2a2a" stroke="#2a2a2a" stroke-width="1.4">1997</text>
<text transform="translate(355.62,428.7) rotate(-90) scale(0.1)" font-size="53" text-anchor="end" fill="#2a2a2a" stroke="#2a2a2a" stroke-width="1.4">1998</text>
<text transform="translate(363.73,428.7) rotate(-90) scale(0.1)" font-size="53" text-anchor="end" fill="#2a2a2a" stroke="#2a2a2a" stroke-width="1.4">1999</text>
<text transform="translate(371.84,428.7) rotate(-90) scale(0.1)" font-size="53" text-anchor="end" fill="#2a2a2a" stroke="#2a2a2a" stroke-width="1.4">2000</text>
<text transform="translate(379.96,428.7) rotate(-90) scale(0.1)" font-size="53" text-anchor="end" fill="#2a2a2a" stroke="#2a2a2a" stroke-width="1.4">2001</text>
<text transform="translate(388.07,428.7) rotate(-90) scale(0.1)" font-size="53" text-anchor="end" fill="#2a2a2a" stroke="#2a2a2a" stroke-width="1.4">2002</text>
<text transform="translate(396.18,428.7) rotate(-90) scale(0.1)" font-size="53" text-anchor="end" fill="#2a2a2a" stroke="#2a2a2a" stroke-width="1.4">2003</text>
<text transform="translate(404.29,428.7) rotate(-90) scale(0.1)" font-size="53" text-anchor="end" fill="#2a2a2a" stroke="#2a2a2a" stroke-width="1.4">2004</text>
<text transform="translate(412.4,428.7) rotate(-90) scale(0.1)" font-size="53" text-anchor="end" fill="#2a2a2a" stroke="#2a2a2a" stroke-width="1.4">2005</text>
<text transform="translate(420.51,428.7) rotate(-90) scale(0.1)" font-size="53" text-anchor="end" fill="#2a2a2a" stroke="#2a2a2a" stroke-width="1.4">2006</text>
<text transform="translate(428.62,428.7) rotate(-90) scale(0.1)" font-size="53" text-anchor="end" fill="#2a2a2a" stroke="#2a2a2a" stroke-width="1.4">2007</text>
<text transform="translate(436.73,428.7) rotate(-90) scale(0.1)" font-size="53" text-anchor="end" fill="#2a2a2a" stroke="#2a2a2a" stroke-width="1.4">2008</text>
<text transform="translate(444.84,428.7) rotate(-90) scale(0.1)" font-size="53" text-anchor="end" fill="#2a2a2a" stroke="#2a2a2a" stroke-width="1.4">2009</text>
<text transform="translate(452.96,428.7) rotate(-90) scale(0.1)" font-size="53" text-anchor="end" fill="#2a2a2a" stroke="#2a2a2a" stroke-width="1.4">2010</text>
<text transform="translate(461.07,428.7) rotate(-90) scale(0.1)" font-size="53" text-anchor="end" fill="#2a2a2a" stroke="#2a2a2a" stroke-width="1.4">2011</text>
<text transform="translate(469.18,428.7) rotate(-90) scale(0.1)" font-size="53" text-anchor="end" fill="#2a2a2a" stroke="#2a2a2a" stroke-width="1.4">2012</text>
<text transform="translate(477.29,428.7) rotate(-90) scale(0.1)" font-size="53" text-anchor="end" fill="#2a2a2a" stroke="#2a2a2a" stroke-width="1.4">2013</text>
<text transform="translate(485.4,428.7) rotate(-90) scale(0.1)" font-size="53" text-anchor="end" fill="#2a2a2a" stroke="#2a2a2a" stroke-width="1.4">2014</text>
<text transform="translate(493.51,428.7) rotate(-90) scale(0.1)" font-size="53" text-anchor="end" fill="#2a2a2a" stroke="#2a2a2a" stroke-width="1.4">2015</text>
<text transform="translate(501.62,428.7) rotate(-90) scale(0.1)" font-size="53" text-anchor="end" fill="#2a2a2a" stroke="#2a2a2a" stroke-width="1.4">2016</text>
<text transform="translate(509.73,428.7) rotate(-90) scale(0.1)" font-size="53" text-anchor="end" fill="#2a2a2a" stroke="#2a2a2a" stroke-width="1.4">2017</text>
<text transform="translate(517.84,428.7) rotate(-90) scale(0.1)" font-size="53" text-anchor="end" fill="#2a2a2a" stroke="#2a2a2a" stroke-width="1.4">2018</text>
<text transform="translate(286.9,374) rotate(-90)" font-size="7.2" text-anchor="middle" fill="#1a1a1a" stroke="#1a1a1a" stroke-width="0.08">Drought Intensity</text>
<text transform="translate(541,374) rotate(-90)" font-size="7.5" text-anchor="middle" fill="#1a1a1a" stroke="#1a1a1a" stroke-width="0.08">Drought-affected crop area</text>
<line x1="304.26" y1="329.18" x2="516.04" y2="329.18" stroke="#d46a1e" stroke-width="1.5" stroke-dasharray="2.7,1.7"/>
<polyline points="304.56,382.21 312.67,344.85 320.78,360.46 328.89,353.06 337,374.31 345.11,355.04 353.22,362.75 361.33,355.55 369.44,343.99 377.56,352.4 385.67,345.15 393.78,369.84 401.89,381.35 410,364.11 418.11,367.87 426.22,365.74 434.33,346.47 442.44,359.65 450.56,350.58 458.67,343.99 466.78,345.66 474.89,341.05 483,343.53 491.11,340.24 499.22,345.15 507.33,344.34 515.44,339.07" fill="none" stroke="#3d6fd2" stroke-width="1.3" stroke-linejoin="round"/>
<circle cx="304.56" cy="382.21" r="1.25" fill="#fff" stroke="#7a9ee0" stroke-width="0.5"/>
<circle cx="312.67" cy="344.85" r="1.25" fill="#fff" stroke="#7a9ee0" stroke-width="0.5"/>
<circle cx="320.78" cy="360.46" r="1.25" fill="#fff" stroke="#7a9ee0" stroke-width="0.5"/>
<circle cx="328.89" cy="353.06" r="1.25" fill="#fff" stroke="#7a9ee0" stroke-width="0.5"/>
<circle cx="337" cy="374.31" r="1.25" fill="#fff" stroke="#7a9ee0" stroke-width="0.5"/>
<circle cx="345.11" cy="355.04" r="1.25" fill="#fff" stroke="#7a9ee0" stroke-width="0.5"/>
<circle cx="353.22" cy="362.75" r="1.25" fill="#fff" stroke="#7a9ee0" stroke-width="0.5"/>
<circle cx="361.33" cy="355.55" r="1.25" fill="#fff" stroke="#7a9ee0" stroke-width="0.5"/>
<circle cx="369.44" cy="343.99" r="1.25" fill="#fff" stroke="#7a9ee0" stroke-width="0.5"/>
<circle cx="377.56" cy="352.4" r="1.25" fill="#fff" stroke="#7a9ee0" stroke-width="0.5"/>
<circle cx="385.67" cy="345.15" r="1.25" fill="#fff" stroke="#7a9ee0" stroke-width="0.5"/>
<circle cx="393.78" cy="369.84" r="1.25" fill="#fff" stroke="#7a9ee0" stroke-width="0.5"/>
<circle cx="401.89" cy="381.35" r="1.25" fill="#fff" stroke="#7a9ee0" stroke-width="0.5"/>
<circle cx="410" cy="364.11" r="1.25" fill="#fff" stroke="#7a9ee0" stroke-width="0.5"/>
<circle cx="418.11" cy="367.87" r="1.25" fill="#fff" stroke="#7a9ee0" stroke-width="0.5"/>
<circle cx="426.22" cy="365.74" r="1.25" fill="#fff" stroke="#7a9ee0" stroke-width="0.5"/>
<circle cx="434.33" cy="346.47" r="1.25" fill="#fff" stroke="#7a9ee0" stroke-width="0.5"/>
<circle cx="442.44" cy="359.65" r="1.25" fill="#fff" stroke="#7a9ee0" stroke-width="0.5"/>
<circle cx="450.56" cy="350.58" r="1.25" fill="#fff" stroke="#7a9ee0" stroke-width="0.5"/>
<circle cx="458.67" cy="343.99" r="1.25" fill="#fff" stroke="#7a9ee0" stroke-width="0.5"/>
<circle cx="466.78" cy="345.66" r="1.25" fill="#fff" stroke="#7a9ee0" stroke-width="0.5"/>
<circle cx="474.89" cy="341.05" r="1.25" fill="#fff" stroke="#7a9ee0" stroke-width="0.5"/>
<circle cx="483" cy="343.53" r="1.25" fill="#fff" stroke="#7a9ee0" stroke-width="0.5"/>
<circle cx="491.11" cy="340.24" r="1.25" fill="#fff" stroke="#7a9ee0" stroke-width="0.5"/>
<circle cx="499.22" cy="345.15" r="1.25" fill="#fff" stroke="#7a9ee0" stroke-width="0.5"/>
<circle cx="507.33" cy="344.34" r="1.25" fill="#fff" stroke="#7a9ee0" stroke-width="0.5"/>
<circle cx="515.44" cy="339.07" r="1.25" fill="#fff" stroke="#7a9ee0" stroke-width="0.5"/>
<path d="M304.56,362.14 C305.91,361.83 309.96,360.31 312.67,360.31 C315.37,360.31 318.07,362.6 320.78,362.14 C323.48,361.67 326.19,357.69 328.89,357.52 C331.59,357.35 334.3,360.72 337,361.12 C339.7,361.53 342.41,360.56 345.11,359.96 C347.81,359.36 350.52,358.54 353.22,357.52 C355.93,356.51 358.63,354.84 361.33,353.87 C364.04,352.91 366.74,351.93 369.44,351.74 C372.15,351.56 374.85,351.79 377.56,352.76 C380.26,353.72 382.96,355.91 385.67,357.52 C388.37,359.14 391.07,361.01 393.78,362.44 C396.48,363.87 399.19,364.99 401.89,366.09 C404.59,367.19 407.3,369.23 410,369.03 C412.7,368.84 415.41,366.24 418.11,364.93 C420.81,363.61 423.52,362.36 426.22,361.12 C428.93,359.89 431.63,358.82 434.33,357.52 C437.04,356.23 439.74,354.82 442.44,353.37 C445.15,351.91 447.85,349.76 450.56,348.8 C453.26,347.85 455.96,348.33 458.67,347.64 C461.37,346.94 464.07,345.47 466.78,344.65 C469.48,343.82 472.19,343 474.89,342.67 C477.59,342.34 480.3,342.72 483,342.67 C485.7,342.62 488.41,342.42 491.11,342.36 C493.81,342.31 496.52,342.36 499.22,342.36 C501.93,342.36 504.63,342.25 507.33,342.36 C510.04,342.47 514.09,342.91 515.44,343.02" fill="none" stroke="#ffc000" stroke-width="1.3" stroke-linejoin="round"/>
<rect x="61" y="467" width="29" height="6" fill="#ff0000"/>
<text x="92" y="466.5" font-size="10" fill="#1a1a1a" stroke="#1a1a1a" stroke-width="0.25">Drought-affected</text>
<text x="94.5" y="478.5" font-size="10" fill="#1a1a1a" stroke="#1a1a1a" stroke-width="0.25">crop area</text>
<line x1="166.2" y1="469.8" x2="196.7" y2="469.8" stroke="#3d6fd2" stroke-width="2.2" stroke-linecap="round"/>
<circle cx="181.2" cy="469.6" r="2.7" fill="#fff" stroke="#3d6fd2" stroke-width="1.1"/>
<text x="198.7" y="472.6" font-size="10" fill="#1a1a1a" stroke="#1a1a1a" stroke-width="0.25">Drought intensity</text>
<line x1="272.6" y1="469.8" x2="302.7" y2="469.8" stroke="#ffc000" stroke-width="2.3" stroke-linecap="round"/>
<text x="304.4" y="472.6" font-size="10" fill="#1a1a1a" stroke="#1a1a1a" stroke-width="0.25">Drought tendency</text>
<line x1="378.4" y1="469.8" x2="408" y2="469.8" stroke="#c55a11" stroke-width="2.3" stroke-dasharray="7.8,3.0"/>
<text x="410.9" y="467.8" font-size="10" fill="#1a1a1a" stroke="#1a1a1a" stroke-width="0.25">Average drought-affected</text>
<text x="412.5" y="480.5" font-size="10" fill="#1a1a1a" stroke="#1a1a1a" stroke-width="0.25">crop area over1992-2018</text>
</svg>
</body></html>
